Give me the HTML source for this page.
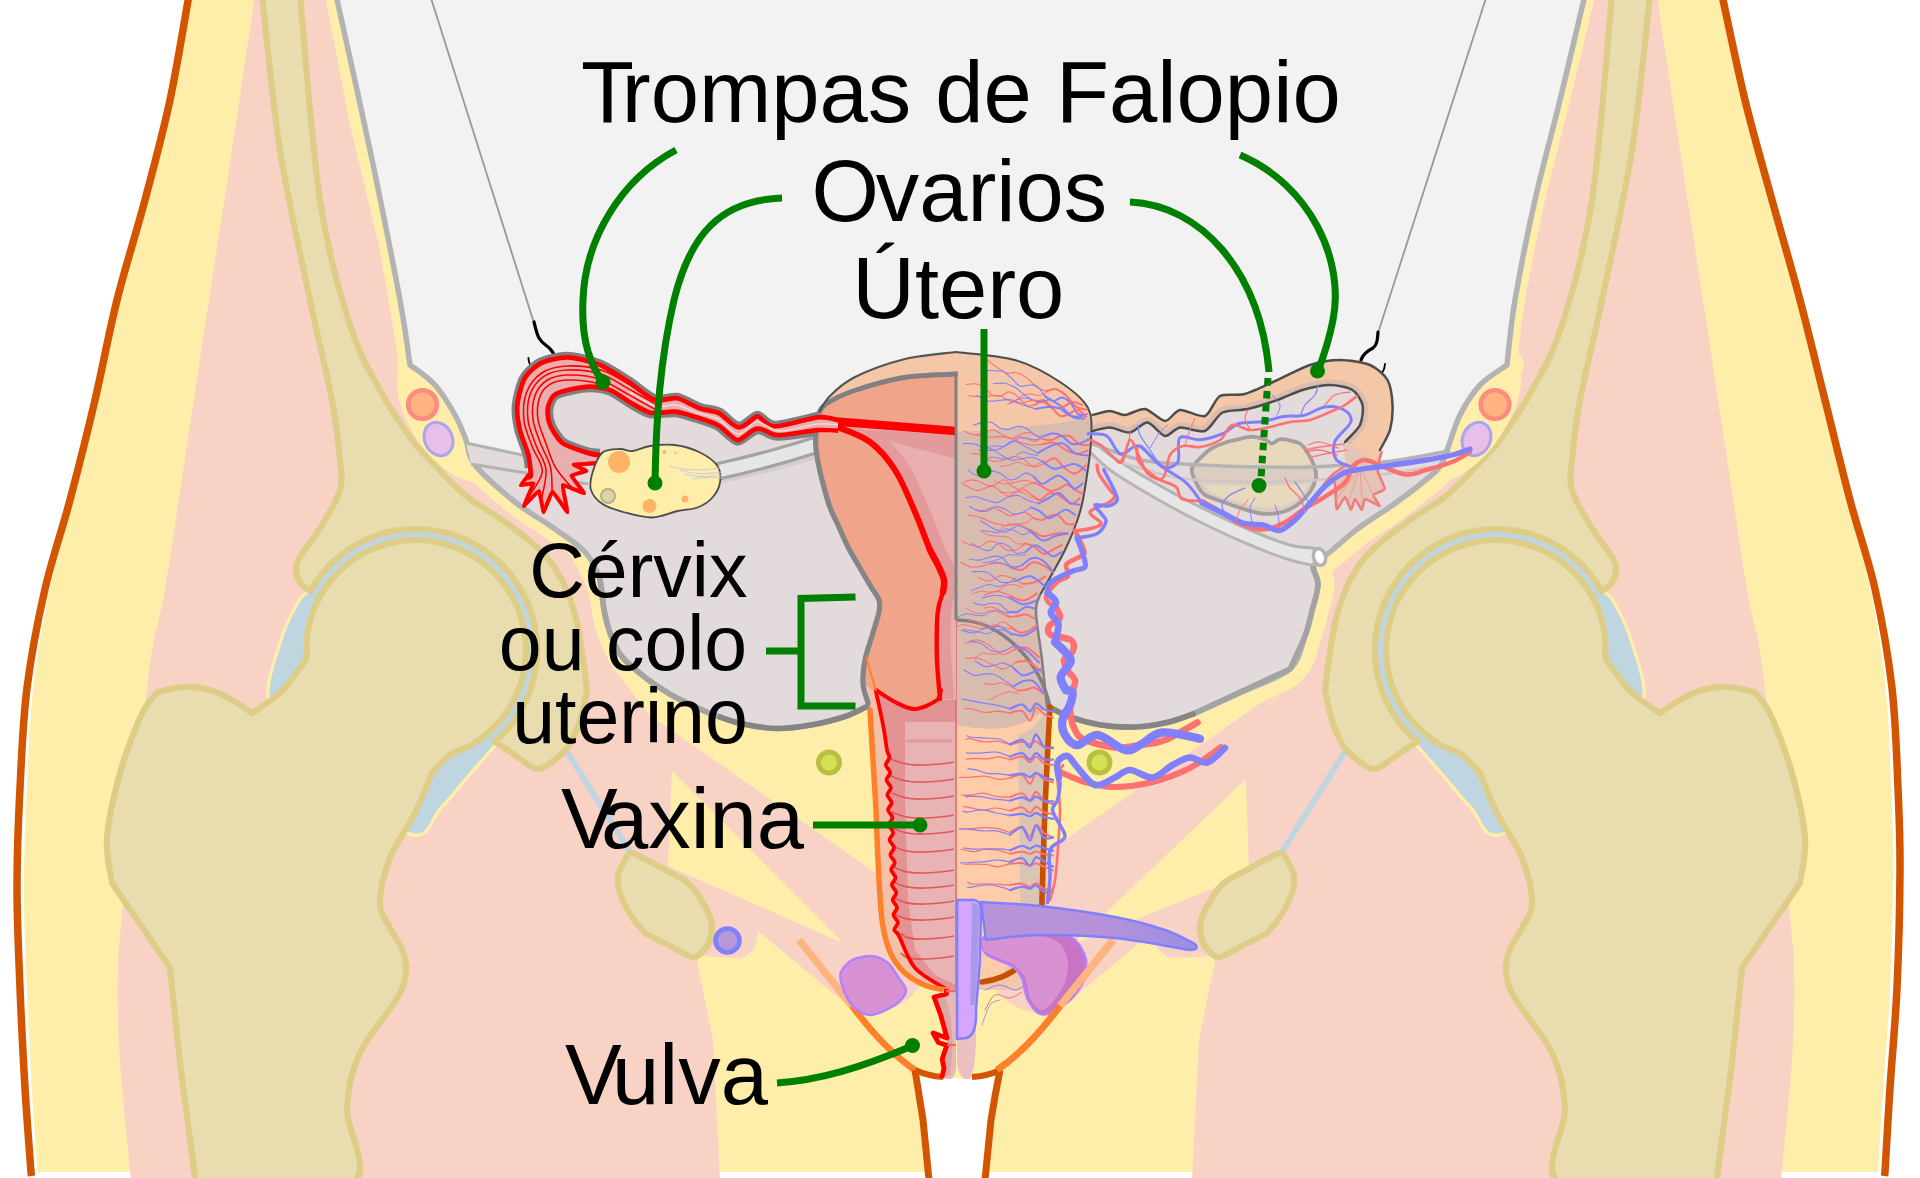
<!DOCTYPE html>
<html><head><meta charset="utf-8"><style>html,body{margin:0;padding:0;background:#fff}svg{display:block}text{font-family:"Liberation Sans",sans-serif;fill:#000}</style>
</head><body>
<svg width="1920" height="1178" viewBox="0 0 1920 1178">
<path d="M189.0,-5.0 C185.8,12.5 177.3,65.8 170.0,100.0 C162.7,134.2 153.8,166.7 145.0,200.0 C136.2,233.3 125.3,266.7 117.0,300.0 C108.7,333.3 102.8,366.7 95.0,400.0 C87.2,433.3 78.3,468.5 70.0,500.0 C61.7,531.5 52.2,557.7 45.0,589.0 C37.8,620.3 31.2,654.8 27.0,688.0 C22.8,721.2 21.7,754.7 20.0,788.0 C18.3,821.3 17.0,854.7 17.0,888.0 C17.0,921.3 18.7,954.7 20.0,988.0 C21.3,1021.3 23.2,1057.3 25.0,1088.0 C26.8,1118.7 30.0,1158.0 31.0,1172.0 L1885,1172 C1885.8,1158.0 1888.0,1118.7 1890.0,1088.0 C1892.0,1057.3 1895.3,1024.3 1897.0,988.0 C1898.7,951.7 1899.8,903.3 1900.0,870.0 C1900.2,836.7 1899.3,818.3 1898.0,788.0 C1896.7,757.7 1895.8,721.2 1892.0,688.0 C1888.2,654.8 1882.0,620.3 1875.0,589.0 C1868.0,557.7 1858.3,531.5 1850.0,500.0 C1841.7,468.5 1833.3,433.3 1825.0,400.0 C1816.7,366.7 1808.8,333.3 1800.0,300.0 C1791.2,266.7 1781.2,233.3 1772.0,200.0 C1762.8,166.7 1753.3,134.2 1745.0,100.0 C1736.7,65.8 1725.8,12.5 1722.0,-5.0Z" fill="#ffeeaa"/>
<path d="M72.0,500.0 C67.8,514.8 54.2,557.7 47.0,589.0 C39.8,620.3 33.2,654.8 29.0,688.0 C24.8,721.2 23.7,754.7 22.0,788.0 C20.3,821.3 19.0,854.7 19.0,888.0 C19.0,921.3 20.7,954.7 22.0,988.0 C23.3,1021.3 25.2,1057.3 27.0,1088.0 C28.8,1118.7 32.0,1158.0 33.0,1172.0 L37.8,1172.0 C36.8,1158.0 33.6,1118.7 31.8,1088.0 C30.0,1057.3 28.1,1021.3 26.8,988.0 C25.5,954.7 23.8,921.3 23.8,888.0 C23.8,854.7 25.2,821.3 26.8,788.0 C28.4,754.7 29.5,721.2 33.3,688.0 C37.1,654.8 43.0,620.3 49.7,589.0 C56.4,557.7 69.6,514.8 73.6,500.0Z" fill="#fff"/>
<path d="M1848.0,500.0 C1852.2,514.8 1866.0,557.7 1873.0,589.0 C1880.0,620.3 1886.2,654.8 1890.0,688.0 C1893.8,721.2 1894.7,757.7 1896.0,788.0 C1897.3,818.3 1898.2,836.7 1898.0,870.0 C1897.8,903.3 1896.7,951.7 1895.0,988.0 C1893.3,1024.3 1890.0,1057.3 1888.0,1088.0 C1886.0,1118.7 1883.8,1158.0 1883.0,1172.0 L1878.2,1172.0 C1879.0,1158.0 1881.2,1118.7 1883.2,1088.0 C1885.2,1057.3 1888.5,1024.3 1890.2,988.0 C1891.9,951.7 1893.0,903.3 1893.2,870.0 C1893.4,836.7 1892.4,818.3 1891.2,788.0 C1890.0,757.7 1889.2,721.2 1885.7,688.0 C1882.2,654.8 1876.8,620.3 1870.3,589.0 C1863.7,557.7 1850.4,514.8 1846.4,500.0Z" fill="#fff"/>
<path d="M189.0,-5.0 C185.8,12.5 177.3,65.8 170.0,100.0 C162.7,134.2 153.8,166.7 145.0,200.0 C136.2,233.3 125.3,266.7 117.0,300.0 C108.7,333.3 102.8,366.7 95.0,400.0 C87.2,433.3 78.3,468.5 70.0,500.0 C61.7,531.5 52.2,557.7 45.0,589.0 C37.8,620.3 31.2,654.8 27.0,688.0 C22.8,721.2 21.7,754.7 20.0,788.0 C18.3,821.3 17.0,854.7 17.0,888.0 C17.0,921.3 18.7,954.7 20.0,988.0 C21.3,1021.3 23.2,1057.3 25.0,1088.0 C26.8,1118.7 30.0,1158.0 31.0,1172.0 L31.5,1176" fill="none" stroke="#d45500" stroke-width="7.5"/>
<path d="M1722.0,-5.0 C1725.8,12.5 1736.7,65.8 1745.0,100.0 C1753.3,134.2 1762.8,166.7 1772.0,200.0 C1781.2,233.3 1791.2,266.7 1800.0,300.0 C1808.8,333.3 1816.7,366.7 1825.0,400.0 C1833.3,433.3 1841.7,468.5 1850.0,500.0 C1858.3,531.5 1868.0,557.7 1875.0,589.0 C1882.0,620.3 1888.2,654.8 1892.0,688.0 C1895.8,721.2 1896.7,757.7 1898.0,788.0 C1899.3,818.3 1900.2,836.7 1900.0,870.0 C1899.8,903.3 1898.7,951.7 1897.0,988.0 C1895.3,1024.3 1892.0,1057.3 1890.0,1088.0 C1888.0,1118.7 1885.8,1158.0 1885.0,1172.0 L1884.5,1176" fill="none" stroke="#d45500" stroke-width="7.5"/>
<path d="M255.0,-5.0 C251.2,20.8 239.7,99.2 232.0,150.0 C224.3,200.8 216.5,250.8 209.0,300.0 C201.5,349.2 194.3,396.8 187.0,445.0 C179.7,493.2 170.5,556.5 165.0,589.0 C159.5,621.5 157.0,623.5 154.0,640.0 C151.0,656.5 150.2,663.0 147.0,688.0 C143.8,713.0 138.7,756.7 135.0,790.0 C131.3,823.3 127.8,858.3 125.0,888.0 C122.2,917.7 118.8,939.3 118.0,968.0 C117.2,996.7 117.8,1024.7 120.0,1060.0 C122.2,1095.3 129.2,1160.0 131.0,1180.0 L720.0,1180.0 L713.0,1040.0 L706.0,1005.0 L696.0,956.0 L740.0,958.0 Q757.0,955.0 758.0,931.0 L850.0,1007.0 L862.0,1014.0 Q905.0,1012.0 920.0,985.0 L885.0,940.0 L879,875 L638,707 L651.0,717.0 L634.0,695.0 L609.0,662.0 L597.0,629.0 L587.0,587.0 L567.0,548.0 L522.0,520.0 L470.0,480.0 L440.0,462.0 L400.0,368.0 L380.0,250.0 L350.0,125.0 L325.0,-5.0Z" fill="#f8d3c5"/>
<path d="M1657.0,-5.0 C1660.8,20.8 1672.3,99.2 1680.0,150.0 C1687.7,200.8 1695.5,250.8 1703.0,300.0 C1710.5,349.2 1717.7,396.8 1725.0,445.0 C1732.3,493.2 1741.5,556.5 1747.0,589.0 C1752.5,621.5 1755.0,623.5 1758.0,640.0 C1761.0,656.5 1761.8,663.0 1765.0,688.0 C1768.2,713.0 1773.3,756.7 1777.0,790.0 C1780.7,823.3 1784.2,858.3 1787.0,888.0 C1789.8,917.7 1793.2,939.3 1794.0,968.0 C1794.8,996.7 1794.2,1024.7 1792.0,1060.0 C1789.8,1095.3 1782.8,1160.0 1781.0,1180.0 L1192.0,1180.0 L1199.0,1040.0 L1206.0,1005.0 L1216.0,956.0 L1172.0,958.0 Q1155.0,955.0 1154.0,931.0 L1062.0,1007.0 L1050.0,1014.0 Q1007.0,1012.0 992.0,985.0 L1027.0,940.0 L1036,860 L1282,688 L1261.0,717.0 L1278.0,695.0 L1303.0,662.0 L1315.0,629.0 L1325.0,587.0 L1345.0,548.0 L1390.0,520.0 L1442.0,480.0 L1472.0,462.0 L1512.0,368.0 L1532.0,250.0 L1562.0,125.0 L1587.0,-5.0Z" fill="#f8d3c5"/>
<path d="M672.0,771.0 L668.0,866.0 L843.0,943.0Z" fill="#ffeeaa"/>
<path d="M1246.0,779.0 L1249.0,874.0 L1072.0,945.0Z" fill="#ffeeaa"/>
<g><path d="M311.0,589.0 C297.0,600.0 301.0,597.5 296.0,606.0 C291.0,614.5 285.7,624.8 281.0,640.0 C276.3,655.2 266.5,679.5 268.0,697.0 C269.5,714.5 278.0,729.5 290.0,745.0 C302.0,760.5 319.5,775.0 340.0,790.0 C360.5,805.0 396.2,832.0 413.0,835.0 C429.8,838.0 431.3,818.3 441.0,808.0 C450.7,797.7 461.0,784.7 471.0,773.0 C481.0,761.3 490.3,751.8 501.0,738.0 C511.7,724.2 528.5,709.7 535.0,690.0 C541.5,670.3 549.2,641.7 540.0,620.0 C530.8,598.3 506.7,573.3 480.0,560.0 C453.3,546.7 408.2,535.2 380.0,540.0 C351.8,544.8 325.0,578.0 311.0,589.0Z" fill="#bfd5e0" stroke="#ffeeaa" stroke-width="3.4"/>
<circle cx="416.0" cy="650.0" r="119.5" fill="#bfd5e0"/>
<path d="M567,752 L632,855" fill="none" stroke="#bfd5e0" stroke-width="6"/>
<path d="M262.0,-5.0 C265.0,20.8 272.0,99.2 280.0,150.0 C288.0,200.8 301.3,258.3 310.0,300.0 C318.7,341.7 327.0,373.3 332.0,400.0 C337.0,426.7 338.7,445.0 340.0,460.0 C341.3,475.0 343.0,479.2 340.0,490.0 C337.0,500.8 328.7,513.8 322.0,525.0 C315.3,536.2 304.3,549.2 300.0,557.0 C295.7,564.8 295.7,567.3 296.0,572.0 C296.3,576.7 299.5,581.8 302.0,585.0 C304.5,588.2 309.5,590.0 311.0,591.0 L316.9,580.6 C318.7,578.4 323.7,571.6 327.5,567.5 C331.3,563.4 335.5,559.5 339.9,556.0 C344.2,552.4 348.9,549.2 353.7,546.3 C358.5,543.4 363.6,540.8 368.7,538.6 C373.9,536.4 379.3,534.6 384.7,533.1 C390.1,531.7 395.7,530.6 401.3,529.9 C406.8,529.2 412.5,528.9 418.1,529.0 C423.7,529.1 429.4,529.6 434.9,530.5 C440.5,531.4 446.0,532.6 451.4,534.3 C456.7,535.9 462.0,538.0 467.1,540.3 C472.2,542.7 477.2,545.5 481.9,548.5 C486.6,551.6 491.1,555.0 495.4,558.7 C499.6,562.4 503.6,566.4 507.3,570.6 C511.0,574.9 514.4,579.4 517.5,584.1 C520.5,588.8 523.3,593.8 525.7,598.9 C528.0,604.0 530.1,609.3 531.7,614.6 C533.4,620.0 534.6,625.5 535.5,631.1 C536.4,636.6 536.9,642.3 537.0,647.9 C537.1,653.5 536.8,659.2 536.1,664.7 C535.4,670.3 534.3,675.9 532.9,681.3 C531.4,686.7 529.6,692.1 527.4,697.3 C525.2,702.4 522.6,707.5 519.7,712.3 C516.8,717.1 513.6,721.8 510.0,726.1 C506.5,730.5 501.2,736.0 498.5,738.5 C495.8,741.0 494.8,740.6 494.0,741.0 C498.2,743.8 511.7,753.3 519.0,758.0 C526.3,762.7 531.7,769.0 538.0,769.0 C544.3,769.0 551.7,762.2 557.0,758.0 C562.3,753.8 566.0,750.8 570.0,744.0 C574.0,737.2 578.2,726.0 581.0,717.0 C583.8,708.0 586.0,694.5 587.0,690.0 C586.2,683.7 584.0,664.5 582.0,652.0 C580.0,639.5 578.3,627.0 575.0,615.0 C571.7,603.0 567.8,590.8 562.0,580.0 C556.2,569.2 550.0,560.0 540.0,550.0 C530.0,540.0 514.5,529.2 502.0,520.0 C489.5,510.8 477.0,505.0 465.0,495.0 C453.0,485.0 438.8,469.2 430.0,460.0 C421.2,450.8 420.3,451.7 412.0,440.0 C403.7,428.3 390.3,409.2 380.0,390.0 C369.7,370.8 360.0,356.7 350.0,325.0 C340.0,293.3 328.3,255.0 320.0,200.0 C311.7,145.0 303.3,29.2 300.0,-5.0Z" fill="#e9ddaf" stroke="#decd87" stroke-width="6.2" stroke-linejoin="round" stroke-linecap="round"/>
<path d="M307.0,657.0 C305.8,658.8 304.5,662.0 300.0,668.0 C295.5,674.0 288.0,685.5 280.0,693.0 C272.0,700.5 256.7,709.7 252.0,713.0 L252.0,713.0 C248.7,710.8 239.0,703.8 232.0,700.0 C225.0,696.2 217.8,692.2 210.0,690.0 C202.2,687.8 193.0,686.8 185.0,687.0 C177.0,687.2 167.3,689.3 162.0,691.0 C156.7,692.7 156.7,692.5 153.0,697.0 C149.3,701.5 145.5,705.3 140.0,718.0 C134.5,730.7 125.5,753.0 120.0,773.0 C114.5,793.0 108.3,819.7 107.0,838.0 C105.7,856.3 111.2,875.5 112.0,883.0 L170.0,968.0 L180.0,1063.0 L196.0,1185.0 C221.7,1185.0 324.8,1197.8 350.0,1185.0 C375.2,1172.2 345.3,1130.0 347.0,1108.0 C348.7,1086.0 351.2,1072.2 360.0,1053.0 C368.8,1033.8 392.5,1008.8 400.0,993.0 C407.5,977.2 406.7,968.8 405.0,958.0 C403.3,947.2 394.2,937.2 390.0,928.0 C385.8,918.8 380.0,914.7 380.0,903.0 C380.0,891.3 384.2,873.0 390.0,858.0 C395.8,843.0 408.0,827.2 415.0,813.0 C422.0,798.8 429.2,779.7 432.0,773.0 C435.2,769.9 444.5,758.9 450.9,754.3 C457.3,749.8 464.2,749.1 470.3,745.6 C476.5,742.2 482.4,738.0 487.7,733.4 C493.1,728.8 498.1,723.6 502.4,718.0 C506.8,712.5 510.7,706.4 513.9,700.1 C517.1,693.9 519.8,687.1 521.7,680.4 C523.7,673.6 525.0,666.5 525.6,659.5 C526.2,652.4 526.1,645.2 525.4,638.2 C524.6,631.2 523.1,624.1 521.0,617.4 C519.0,610.6 516.2,604.0 512.8,597.8 C509.5,591.5 505.4,585.6 500.9,580.1 C496.5,574.7 491.4,569.6 485.9,565.1 C480.5,560.6 474.5,556.6 468.3,553.2 C462.0,549.9 455.4,547.1 448.7,545.0 C441.9,542.9 434.8,541.4 427.8,540.6 C420.8,539.9 413.6,539.8 406.6,540.4 C399.5,541.0 392.4,542.3 385.7,544.3 C378.9,546.2 372.2,548.9 365.9,552.1 C359.6,555.3 353.5,559.2 348.0,563.6 C342.4,567.9 337.2,572.9 332.6,578.3 C328.0,583.6 323.8,589.5 320.4,595.7 C316.9,601.8 313.9,608.4 311.7,615.1 C309.5,621.8 307.7,628.8 306.9,635.8 C306.1,642.8 307.0,653.5 307.0,657.0Z" fill="#e9ddaf" stroke="#decd87" stroke-width="6.2" stroke-linejoin="round" stroke-linecap="round"/>
<path d="M632.0,853.0 C636.2,853.6 653.6,863.6 660.0,867.0 C666.4,870.4 682.3,878.4 687.0,882.0 C691.7,885.6 697.3,893.9 700.0,898.0 C702.7,902.1 708.6,913.3 710.0,917.0 C711.4,920.7 712.2,926.7 712.0,930.0 C711.8,933.3 710.1,941.8 708.0,945.0 C705.9,948.2 698.4,957.4 694.0,957.5 C689.6,957.6 675.5,948.7 670.0,946.0 C664.5,943.3 650.9,937.0 646.7,934.0 C642.5,931.0 636.4,923.0 634.0,920.0 C631.6,917.0 628.2,911.5 626.5,908.0 C624.8,904.5 620.0,893.9 619.0,890.0 C618.0,886.1 617.4,878.3 618.0,875.0 C618.6,871.7 622.4,864.6 624.0,862.0 C625.6,859.4 627.8,852.4 632.0,853.0Z" fill="#e9ddaf" stroke="#decd87" stroke-width="6.2" stroke-linejoin="round" stroke-linecap="round"/>
<path d="M799,940 L852,1006" fill="none" stroke="#ffb380" stroke-width="7.5"/>
<path d="M852,1006 Q885,1050 915,1070" fill="none" stroke="#ff7f2a" stroke-width="6.5"/></g>
<g transform="matrix(-1,0,0,1,1912,0)"><path d="M311.0,589.0 C297.0,600.0 301.0,597.5 296.0,606.0 C291.0,614.5 285.7,624.8 281.0,640.0 C276.3,655.2 266.5,679.5 268.0,697.0 C269.5,714.5 278.0,729.5 290.0,745.0 C302.0,760.5 319.5,775.0 340.0,790.0 C360.5,805.0 396.2,832.0 413.0,835.0 C429.8,838.0 431.3,818.3 441.0,808.0 C450.7,797.7 461.0,784.7 471.0,773.0 C481.0,761.3 490.3,751.8 501.0,738.0 C511.7,724.2 528.5,709.7 535.0,690.0 C541.5,670.3 549.2,641.7 540.0,620.0 C530.8,598.3 506.7,573.3 480.0,560.0 C453.3,546.7 408.2,535.2 380.0,540.0 C351.8,544.8 325.0,578.0 311.0,589.0Z" fill="#bfd5e0" stroke="#ffeeaa" stroke-width="3.4"/>
<circle cx="416.0" cy="650.0" r="119.5" fill="#bfd5e0"/>
<path d="M567,752 L632,855" fill="none" stroke="#bfd5e0" stroke-width="6"/>
<path d="M262.0,-5.0 C265.0,20.8 272.0,99.2 280.0,150.0 C288.0,200.8 301.3,258.3 310.0,300.0 C318.7,341.7 327.0,373.3 332.0,400.0 C337.0,426.7 338.7,445.0 340.0,460.0 C341.3,475.0 343.0,479.2 340.0,490.0 C337.0,500.8 328.7,513.8 322.0,525.0 C315.3,536.2 304.3,549.2 300.0,557.0 C295.7,564.8 295.7,567.3 296.0,572.0 C296.3,576.7 299.5,581.8 302.0,585.0 C304.5,588.2 309.5,590.0 311.0,591.0 L316.9,580.6 C318.7,578.4 323.7,571.6 327.5,567.5 C331.3,563.4 335.5,559.5 339.9,556.0 C344.2,552.4 348.9,549.2 353.7,546.3 C358.5,543.4 363.6,540.8 368.7,538.6 C373.9,536.4 379.3,534.6 384.7,533.1 C390.1,531.7 395.7,530.6 401.3,529.9 C406.8,529.2 412.5,528.9 418.1,529.0 C423.7,529.1 429.4,529.6 434.9,530.5 C440.5,531.4 446.0,532.6 451.4,534.3 C456.7,535.9 462.0,538.0 467.1,540.3 C472.2,542.7 477.2,545.5 481.9,548.5 C486.6,551.6 491.1,555.0 495.4,558.7 C499.6,562.4 503.6,566.4 507.3,570.6 C511.0,574.9 514.4,579.4 517.5,584.1 C520.5,588.8 523.3,593.8 525.7,598.9 C528.0,604.0 530.1,609.3 531.7,614.6 C533.4,620.0 534.6,625.5 535.5,631.1 C536.4,636.6 536.9,642.3 537.0,647.9 C537.1,653.5 536.8,659.2 536.1,664.7 C535.4,670.3 534.3,675.9 532.9,681.3 C531.4,686.7 529.6,692.1 527.4,697.3 C525.2,702.4 522.6,707.5 519.7,712.3 C516.8,717.1 513.6,721.8 510.0,726.1 C506.5,730.5 501.2,736.0 498.5,738.5 C495.8,741.0 494.8,740.6 494.0,741.0 C498.2,743.8 511.7,753.3 519.0,758.0 C526.3,762.7 531.7,769.0 538.0,769.0 C544.3,769.0 551.7,762.2 557.0,758.0 C562.3,753.8 566.0,750.8 570.0,744.0 C574.0,737.2 578.2,726.0 581.0,717.0 C583.8,708.0 586.0,694.5 587.0,690.0 C586.2,683.7 584.0,664.5 582.0,652.0 C580.0,639.5 578.3,627.0 575.0,615.0 C571.7,603.0 567.8,590.8 562.0,580.0 C556.2,569.2 550.0,560.0 540.0,550.0 C530.0,540.0 514.5,529.2 502.0,520.0 C489.5,510.8 477.0,505.0 465.0,495.0 C453.0,485.0 438.8,469.2 430.0,460.0 C421.2,450.8 420.3,451.7 412.0,440.0 C403.7,428.3 390.3,409.2 380.0,390.0 C369.7,370.8 360.0,356.7 350.0,325.0 C340.0,293.3 328.3,255.0 320.0,200.0 C311.7,145.0 303.3,29.2 300.0,-5.0Z" fill="#e9ddaf" stroke="#decd87" stroke-width="6.2" stroke-linejoin="round" stroke-linecap="round"/>
<path d="M307.0,657.0 C305.8,658.8 304.5,662.0 300.0,668.0 C295.5,674.0 288.0,685.5 280.0,693.0 C272.0,700.5 256.7,709.7 252.0,713.0 L252.0,713.0 C248.7,710.8 239.0,703.8 232.0,700.0 C225.0,696.2 217.8,692.2 210.0,690.0 C202.2,687.8 193.0,686.8 185.0,687.0 C177.0,687.2 167.3,689.3 162.0,691.0 C156.7,692.7 156.7,692.5 153.0,697.0 C149.3,701.5 145.5,705.3 140.0,718.0 C134.5,730.7 125.5,753.0 120.0,773.0 C114.5,793.0 108.3,819.7 107.0,838.0 C105.7,856.3 111.2,875.5 112.0,883.0 L170.0,968.0 L180.0,1063.0 L196.0,1185.0 C221.7,1185.0 324.8,1197.8 350.0,1185.0 C375.2,1172.2 345.3,1130.0 347.0,1108.0 C348.7,1086.0 351.2,1072.2 360.0,1053.0 C368.8,1033.8 392.5,1008.8 400.0,993.0 C407.5,977.2 406.7,968.8 405.0,958.0 C403.3,947.2 394.2,937.2 390.0,928.0 C385.8,918.8 380.0,914.7 380.0,903.0 C380.0,891.3 384.2,873.0 390.0,858.0 C395.8,843.0 408.0,827.2 415.0,813.0 C422.0,798.8 429.2,779.7 432.0,773.0 C435.2,769.9 444.5,758.9 450.9,754.3 C457.3,749.8 464.2,749.1 470.3,745.6 C476.5,742.2 482.4,738.0 487.7,733.4 C493.1,728.8 498.1,723.6 502.4,718.0 C506.8,712.5 510.7,706.4 513.9,700.1 C517.1,693.9 519.8,687.1 521.7,680.4 C523.7,673.6 525.0,666.5 525.6,659.5 C526.2,652.4 526.1,645.2 525.4,638.2 C524.6,631.2 523.1,624.1 521.0,617.4 C519.0,610.6 516.2,604.0 512.8,597.8 C509.5,591.5 505.4,585.6 500.9,580.1 C496.5,574.7 491.4,569.6 485.9,565.1 C480.5,560.6 474.5,556.6 468.3,553.2 C462.0,549.9 455.4,547.1 448.7,545.0 C441.9,542.9 434.8,541.4 427.8,540.6 C420.8,539.9 413.6,539.8 406.6,540.4 C399.5,541.0 392.4,542.3 385.7,544.3 C378.9,546.2 372.2,548.9 365.9,552.1 C359.6,555.3 353.5,559.2 348.0,563.6 C342.4,567.9 337.2,572.9 332.6,578.3 C328.0,583.6 323.8,589.5 320.4,595.7 C316.9,601.8 313.9,608.4 311.7,615.1 C309.5,621.8 307.7,628.8 306.9,635.8 C306.1,642.8 307.0,653.5 307.0,657.0Z" fill="#e9ddaf" stroke="#decd87" stroke-width="6.2" stroke-linejoin="round" stroke-linecap="round"/>
<path d="M632.0,853.0 C636.2,853.6 653.6,863.6 660.0,867.0 C666.4,870.4 682.3,878.4 687.0,882.0 C691.7,885.6 697.3,893.9 700.0,898.0 C702.7,902.1 708.6,913.3 710.0,917.0 C711.4,920.7 712.2,926.7 712.0,930.0 C711.8,933.3 710.1,941.8 708.0,945.0 C705.9,948.2 698.4,957.4 694.0,957.5 C689.6,957.6 675.5,948.7 670.0,946.0 C664.5,943.3 650.9,937.0 646.7,934.0 C642.5,931.0 636.4,923.0 634.0,920.0 C631.6,917.0 628.2,911.5 626.5,908.0 C624.8,904.5 620.0,893.9 619.0,890.0 C618.0,886.1 617.4,878.3 618.0,875.0 C618.6,871.7 622.4,864.6 624.0,862.0 C625.6,859.4 627.8,852.4 632.0,853.0Z" fill="#e9ddaf" stroke="#decd87" stroke-width="6.2" stroke-linejoin="round" stroke-linecap="round"/>
<path d="M799,940 L852,1006" fill="none" stroke="#ffb380" stroke-width="7.5"/>
<path d="M852,1006 Q885,1050 915,1070" fill="none" stroke="#ff7f2a" stroke-width="6.5"/></g>
<circle cx="727.5" cy="940.5" r="12.0" fill="#b897d8" stroke="#8080ff" stroke-width="4.6"/>
<path d="M841.0,972.0 C842.5,968.2 847.4,962.4 852.0,960.0 C856.6,957.6 866.6,955.5 872.0,956.0 C877.4,956.5 884.1,959.9 888.0,963.0 C891.9,966.1 895.3,972.8 898.0,977.0 C900.7,981.2 906.5,986.8 906.0,991.0 C905.5,995.2 900.4,1001.4 895.0,1005.0 C889.6,1008.6 876.5,1015.0 870.0,1015.0 C863.5,1015.0 856.2,1009.5 852.0,1005.0 C847.8,1000.5 843.6,990.0 842.0,985.0 C840.4,980.0 839.5,975.8 841.0,972.0Z" fill="#d891d3" stroke="#b380ff" stroke-width="2.5"/>
<circle cx="829.0" cy="762.5" r="10.5" fill="#d4e157" stroke="#b8c042" stroke-width="5"/>
<circle cx="1099.5" cy="762.5" r="10.5" fill="#d4e157" stroke="#b8c042" stroke-width="5"/>
<path d="M336.0,-5.0 C341.7,20.8 359.3,99.2 370.0,150.0 C380.7,200.8 393.3,264.2 400.0,300.0 C406.7,335.8 408.3,354.2 410.0,365.0" fill="none" stroke="#ffeeaa" stroke-width="20" stroke-linejoin="round" stroke-linecap="round"/>
<path d="M1585.0,-5.0 C1580.8,12.5 1568.3,65.8 1560.0,100.0 C1551.7,134.2 1542.5,166.7 1535.0,200.0 C1527.5,233.3 1519.7,272.5 1515.0,300.0 C1510.3,327.5 1508.3,354.2 1507.0,365.0" fill="none" stroke="#ffeeaa" stroke-width="20" stroke-linejoin="round" stroke-linecap="round"/>
<path d="M410.0,365.0 C414.2,368.3 427.5,376.7 435.0,385.0 C442.5,393.3 449.8,405.8 455.0,415.0 C460.2,424.2 462.7,431.7 466.0,440.0 C469.3,448.3 466.8,454.7 475.0,465.0 C483.2,475.3 502.2,491.7 515.0,502.0 C527.8,512.3 540.3,518.7 552.0,527.0 C563.7,535.3 577.0,543.2 585.0,552.0 C593.0,560.8 596.7,569.5 600.0,580.0 C603.3,590.5 602.5,604.2 605.0,615.0 C607.5,625.8 610.8,636.7 615.0,645.0 C619.2,653.3 621.2,657.0 630.0,665.0 C638.8,673.0 654.8,685.0 668.0,693.0 C681.2,701.0 696.5,707.8 709.0,713.0 C721.5,718.2 731.7,721.4 743.0,724.0 C754.3,726.6 765.7,728.3 777.0,728.5 C788.3,728.7 799.7,727.0 811.0,725.0 C822.3,723.0 835.5,719.7 845.0,716.5 C854.5,713.3 864.2,707.8 868.0,706.0" fill="none" stroke="#ffeeaa" stroke-width="25" stroke-linejoin="round" stroke-linecap="round"/>
<path d="M1507.0,365.0 C1502.5,368.3 1487.8,376.7 1480.0,385.0 C1472.2,393.3 1465.5,404.2 1460.0,415.0 C1454.5,425.8 1450.8,440.8 1447.0,450.0 C1443.2,459.2 1445.3,461.3 1437.0,470.0 C1428.7,478.7 1409.8,492.5 1397.0,502.0 C1384.2,511.5 1371.2,518.7 1360.0,527.0 C1348.8,535.3 1337.7,545.5 1330.0,552.0 C1322.3,558.5 1316.0,560.5 1314.0,566.0 C1312.0,571.5 1318.3,577.5 1318.0,585.0 C1317.7,592.5 1314.2,602.5 1312.0,611.0 C1309.8,619.5 1308.7,626.3 1305.0,636.0 C1301.3,645.7 1300.2,659.8 1290.0,669.0 C1279.8,678.2 1260.2,683.5 1244.0,691.0 C1227.8,698.5 1205.5,708.8 1193.0,714.0 C1180.5,719.2 1178.7,719.8 1169.0,722.0 C1159.3,724.2 1146.3,726.5 1135.0,727.0 C1123.7,727.5 1111.8,726.7 1101.0,725.0 C1090.2,723.3 1078.3,719.8 1070.0,717.0 C1061.7,714.2 1054.2,709.5 1051.0,708.0" fill="none" stroke="#ffeeaa" stroke-width="33" stroke-linejoin="round" stroke-linecap="round"/>
<path d="M1440.0,466.0 C1432.8,472.0 1410.3,491.8 1397.0,502.0 C1383.7,512.2 1370.8,519.0 1360.0,527.0 C1349.2,535.0 1336.7,546.2 1332.0,550.0" fill="none" stroke="#ffeeaa" stroke-width="34" stroke-linejoin="round" stroke-linecap="round"/>
<path d="M408.0,350.0 C400.8,350.0 397.7,369.2 397.0,380.0 C396.3,390.8 399.3,403.3 404.0,415.0 C408.7,426.7 417.0,440.2 425.0,450.0 C433.0,459.8 442.8,469.0 452.0,474.0 C461.2,479.0 475.3,485.7 480.0,480.0 C484.7,474.3 486.7,456.7 480.0,440.0 C473.3,423.3 452.0,395.0 440.0,380.0 C428.0,365.0 415.2,350.0 408.0,350.0Z" fill="#ffeeaa"/>
<path d="M1510.0,350.0 C1517.8,350.0 1520.7,369.2 1521.0,380.0 C1521.3,390.8 1517.2,403.3 1512.0,415.0 C1506.8,426.7 1498.3,440.2 1490.0,450.0 C1481.7,459.8 1471.3,469.0 1462.0,474.0 C1452.7,479.0 1438.7,485.7 1434.0,480.0 C1429.3,474.3 1427.3,456.7 1434.0,440.0 C1440.7,423.3 1461.3,395.0 1474.0,380.0 C1486.7,365.0 1502.2,350.0 1510.0,350.0Z" fill="#ffeeaa"/>
<path d="M336.0,-5.0 C341.7,20.8 359.3,99.2 370.0,150.0 C380.7,200.8 393.3,264.2 400.0,300.0 C406.7,335.8 408.3,354.2 410.0,365.0 C414.2,368.3 427.5,376.7 435.0,385.0 C442.5,393.3 449.8,405.8 455.0,415.0 C460.2,424.2 462.7,431.7 466.0,440.0 C469.3,448.3 473.5,460.8 475.0,465.0 L700,520 L1200,520 L1437,470 C1438.7,466.7 1443.2,459.2 1447.0,450.0 C1450.8,440.8 1454.5,425.8 1460.0,415.0 C1465.5,404.2 1472.2,393.3 1480.0,385.0 C1487.8,376.7 1502.5,368.3 1507.0,365.0 C1508.3,354.2 1510.3,327.5 1515.0,300.0 C1519.7,272.5 1527.5,233.3 1535.0,200.0 C1542.5,166.7 1551.7,134.2 1560.0,100.0 C1568.3,65.8 1580.8,12.5 1585.0,-5.0Z" fill="#f2f2f2"/>
<path d="M466.0,442.0 L527.0,458.0 C526.0,465.0 522.2,450.0 521.0,440.0 C519.8,430.0 519.0,419.2 520.0,410.0 C521.0,400.8 523.3,392.2 527.0,385.0 C530.7,377.8 535.3,371.0 542.0,367.0 C548.7,363.0 557.3,360.8 567.0,361.0 C576.7,361.2 589.5,363.8 600.0,368.0 C610.5,372.2 620.8,380.3 630.0,386.0 C639.2,391.7 647.5,399.3 655.0,402.0 C662.5,404.7 668.0,400.7 675.0,402.0 C682.0,403.3 690.0,407.3 697.0,410.0 C704.0,412.7 710.3,414.3 717.0,418.0 C723.7,421.7 730.3,431.7 737.0,432.0 C743.7,432.3 749.8,420.7 757.0,420.0 C764.2,419.3 770.0,427.7 780.0,428.0 C790.0,428.3 810.8,423.0 817.0,422.0 L956,380 L1092,423 C1095.0,422.3 1103.7,418.8 1110.0,419.0 C1116.3,419.2 1123.8,424.7 1130.0,424.0 C1136.2,423.3 1141.2,414.2 1147.0,415.0 C1152.8,415.8 1159.5,428.3 1165.0,429.0 C1170.5,429.7 1173.3,419.8 1180.0,419.0 C1186.7,418.2 1198.2,426.5 1205.0,424.0 C1211.8,421.5 1214.2,407.8 1221.0,404.0 C1227.8,400.2 1236.7,403.3 1246.0,401.0 C1255.3,398.7 1267.0,394.0 1277.0,390.0 C1287.0,386.0 1296.3,380.0 1306.0,377.0 C1315.7,374.0 1325.2,371.8 1335.0,372.0 C1344.8,372.2 1357.2,374.2 1365.0,378.0 C1372.8,381.8 1378.5,388.0 1382.0,395.0 C1385.5,402.0 1386.3,410.8 1386.0,420.0 C1385.7,429.2 1382.3,441.7 1380.0,450.0 C1377.7,458.3 1373.3,466.7 1372.0,470.0 L1447,452 C1445.3,453.3 1445.3,461.3 1437.0,470.0 C1428.7,478.7 1409.8,492.5 1397.0,502.0 C1384.2,511.5 1371.2,518.7 1360.0,527.0 C1348.8,535.3 1337.7,545.5 1330.0,552.0 C1322.3,558.5 1316.0,560.5 1314.0,566.0 C1312.0,571.5 1318.3,577.5 1318.0,585.0 C1317.7,592.5 1314.2,602.5 1312.0,611.0 C1309.8,619.5 1308.7,626.3 1305.0,636.0 C1301.3,645.7 1300.2,659.8 1290.0,669.0 C1279.8,678.2 1260.2,683.5 1244.0,691.0 C1227.8,698.5 1205.5,708.8 1193.0,714.0 C1180.5,719.2 1178.7,719.8 1169.0,722.0 C1159.3,724.2 1146.3,726.5 1135.0,727.0 C1123.7,727.5 1111.8,726.7 1101.0,725.0 C1090.2,723.3 1078.3,719.8 1070.0,717.0 C1061.7,714.2 1054.2,709.5 1051.0,708.0 L956,700 L868,706 C864.2,707.8 854.5,713.3 845.0,716.5 C835.5,719.7 822.3,723.0 811.0,725.0 C799.7,727.0 788.3,728.7 777.0,728.5 C765.7,728.3 754.3,726.6 743.0,724.0 C731.7,721.4 721.5,718.2 709.0,713.0 C696.5,707.8 681.2,701.0 668.0,693.0 C654.8,685.0 638.8,673.0 630.0,665.0 C621.2,657.0 619.2,653.3 615.0,645.0 C610.8,636.7 607.5,625.8 605.0,615.0 C602.5,604.2 603.3,590.5 600.0,580.0 C596.7,569.5 593.0,560.8 585.0,552.0 C577.0,543.2 563.7,535.3 552.0,527.0 C540.3,518.7 527.8,512.3 515.0,502.0 C502.2,491.7 483.2,475.3 475.0,465.0 C466.8,454.7 467.5,444.2 466.0,440.0Z" fill="#e3dbdb"/>
<path d="M336.0,-5.0 C341.7,20.8 359.3,99.2 370.0,150.0 C380.7,200.8 393.3,264.2 400.0,300.0 C406.7,335.8 408.3,354.2 410.0,365.0  C414.2,368.3 427.5,376.7 435.0,385.0 C442.5,393.3 449.8,405.8 455.0,415.0 C460.2,424.2 462.7,431.7 466.0,440.0 C469.3,448.3 466.8,454.7 475.0,465.0 C483.2,475.3 502.2,491.7 515.0,502.0 C527.8,512.3 540.3,518.7 552.0,527.0 C563.7,535.3 577.0,543.2 585.0,552.0 C593.0,560.8 596.7,569.5 600.0,580.0 C603.3,590.5 602.5,604.2 605.0,615.0 C607.5,625.8 610.8,636.7 615.0,645.0 C619.2,653.3 621.2,657.0 630.0,665.0 C638.8,673.0 654.8,685.0 668.0,693.0 C681.2,701.0 696.5,707.8 709.0,713.0 C721.5,718.2 731.7,721.4 743.0,724.0 C754.3,726.6 765.7,728.3 777.0,728.5 C788.3,728.7 799.7,727.0 811.0,725.0 C822.3,723.0 835.5,719.7 845.0,716.5 C854.5,713.3 864.2,707.8 868.0,706.0" fill="none" stroke="#b3b3b3" stroke-width="5.5" stroke-linejoin="round" stroke-linecap="round"/>
<path d="M1585.0,-5.0 C1580.8,12.5 1568.3,65.8 1560.0,100.0 C1551.7,134.2 1542.5,166.7 1535.0,200.0 C1527.5,233.3 1519.7,272.5 1515.0,300.0 C1510.3,327.5 1508.3,354.2 1507.0,365.0  C1502.5,368.3 1487.8,376.7 1480.0,385.0 C1472.2,393.3 1465.5,404.2 1460.0,415.0 C1454.5,425.8 1450.8,440.8 1447.0,450.0 C1443.2,459.2 1445.3,461.3 1437.0,470.0 C1428.7,478.7 1409.8,492.5 1397.0,502.0 C1384.2,511.5 1371.2,518.7 1360.0,527.0 C1348.8,535.3 1337.7,545.5 1330.0,552.0 C1322.3,558.5 1316.0,560.5 1314.0,566.0 C1312.0,571.5 1318.3,577.5 1318.0,585.0 C1317.7,592.5 1314.2,602.5 1312.0,611.0 C1309.8,619.5 1308.7,626.3 1305.0,636.0 C1301.3,645.7 1300.2,659.8 1290.0,669.0 C1279.8,678.2 1260.2,683.5 1244.0,691.0 C1227.8,698.5 1205.5,708.8 1193.0,714.0 C1180.5,719.2 1178.7,719.8 1169.0,722.0 C1159.3,724.2 1146.3,726.5 1135.0,727.0 C1123.7,727.5 1111.8,726.7 1101.0,725.0 C1090.2,723.3 1078.3,719.8 1070.0,717.0 C1061.7,714.2 1054.2,709.5 1051.0,708.0" fill="none" stroke="#b3b3b3" stroke-width="5.5" stroke-linejoin="round" stroke-linecap="round"/>
<path d="M600.0,580.0 C600.8,585.8 602.5,604.2 605.0,615.0 C607.5,625.8 610.8,636.7 615.0,645.0 C619.2,653.3 621.2,657.0 630.0,665.0 C638.8,673.0 654.8,685.0 668.0,693.0 C681.2,701.0 700.3,709.0 709.0,713.0 C717.7,717.0 718.2,716.3 720.0,717.0" fill="none" stroke="#a3a3a3" stroke-width="5.6" stroke-linejoin="round" stroke-linecap="round"/>
<path d="M720.0,717.0 C723.8,718.2 733.5,722.1 743.0,724.0 C752.5,725.9 765.7,728.3 777.0,728.5 C788.3,728.7 799.7,727.0 811.0,725.0 C822.3,723.0 835.5,719.7 845.0,716.5 C854.5,713.3 864.2,707.8 868.0,706.0" fill="none" stroke="#858585" stroke-width="5.6" stroke-linejoin="round" stroke-linecap="round"/>
<path d="M1313.0,568.0 C1313.8,570.8 1318.2,577.8 1318.0,585.0 C1317.8,592.2 1314.2,602.5 1312.0,611.0 C1309.8,619.5 1308.7,626.3 1305.0,636.0 C1301.3,645.7 1292.5,663.5 1290.0,669.0 L1193,714" fill="none" stroke="#a3a3a3" stroke-width="5.6" stroke-linejoin="round" stroke-linecap="round"/>
<path d="M1193.0,714.0 C1189.0,715.3 1178.7,719.8 1169.0,722.0 C1159.3,724.2 1146.3,726.5 1135.0,727.0 C1123.7,727.5 1111.8,726.7 1101.0,725.0 C1090.2,723.3 1078.3,719.8 1070.0,717.0 C1061.7,714.2 1054.2,709.5 1051.0,708.0" fill="none" stroke="#858585" stroke-width="5.6" stroke-linejoin="round" stroke-linecap="round"/>
<path d="M430,-5 L534,323" fill="none" stroke="#999" stroke-width="1.8"/>
<path d="M1487,-5 L1378,333" fill="none" stroke="#999" stroke-width="1.8"/>
<path d="M534,322 C536,330 537,335 539,338 C543,345 549,346 551,350 C553,352 554,354 554,356" fill="none" stroke="#000" stroke-width="3.2" stroke-linejoin="round" stroke-linecap="round"/>
<path d="M528.4,358 C528.5,364 532,368 536.5,370" fill="none" stroke="#000" stroke-width="1.8" stroke-linejoin="round" stroke-linecap="round"/>
<path d="M1378,332 C1377.5,340 1377,345 1373,348 C1367,351 1363,354 1361,360" fill="none" stroke="#000" stroke-width="3.2" stroke-linejoin="round" stroke-linecap="round"/>
<path d="M1385,364 C1384.5,371 1381,375 1377,377" fill="none" stroke="#000" stroke-width="1.8" stroke-linejoin="round" stroke-linecap="round"/>
<circle cx="422.5" cy="404.5" r="14.3" fill="#ffb380" stroke="#ff8a80" stroke-width="4.6"/>
<ellipse cx="438.5" cy="439" rx="13.8" ry="17.2" fill="#e8bfe8" stroke="#aaa5ee" stroke-width="3" transform="rotate(-25 438.5 439)"/>
<circle cx="1495.0" cy="404.5" r="14.3" fill="#ffb380" stroke="#ff8a80" stroke-width="4.6"/>
<ellipse cx="1476.5" cy="439" rx="13.8" ry="17.2" fill="#e8bfe8" stroke="#aaa5ee" stroke-width="3" transform="rotate(25 1476.5 439)"/>
<defs><clipPath id="cov"><path d="M1191.8,469.0 C1192.0,466.2 1194.3,464.3 1197.0,461.5 C1199.7,458.7 1206.9,451.4 1211.0,448.7 C1215.1,446.0 1222.4,443.6 1226.0,442.4 C1229.6,441.2 1232.8,440.6 1236.4,439.8 C1240.0,439.0 1247.5,436.6 1251.6,436.6 C1255.7,436.6 1262.7,438.8 1265.6,439.8 C1268.5,440.8 1269.8,443.7 1272.0,443.6 C1274.2,443.5 1277.1,439.2 1281.0,439.2 C1284.9,439.2 1296.1,441.4 1300.0,443.6 C1303.9,445.8 1306.9,451.6 1309.0,455.0 C1311.1,458.4 1313.7,464.6 1314.7,467.8 C1315.7,471.0 1316.7,474.6 1316.0,478.0 C1315.3,481.4 1312.6,488.3 1310.0,492.0 C1307.4,495.7 1301.6,501.8 1297.5,504.7 C1293.4,507.6 1286.0,511.2 1281.0,512.4 C1276.0,513.6 1267.2,514.1 1261.8,513.6 C1256.4,513.1 1248.0,510.2 1242.7,508.6 C1237.4,507.0 1228.9,504.0 1223.6,502.0 C1218.3,500.0 1208.4,497.4 1204.5,494.6 C1200.6,491.8 1197.4,485.4 1195.6,481.8 C1193.8,478.2 1191.6,471.8 1191.8,469.0Z"/></clipPath>
<clipPath id="ctr"><path d="M1092.5,415.0 C1094.8,414.5 1105.7,411.0 1110.0,411.0 C1114.3,411.0 1120.3,415.3 1125.0,415.0 C1129.7,414.7 1139.7,408.2 1145.0,409.0 C1150.3,409.8 1160.3,420.9 1165.0,421.0 C1169.7,421.1 1174.7,410.7 1180.0,410.0 C1185.3,409.3 1199.7,417.9 1205.0,416.0 C1210.3,414.1 1214.7,398.9 1220.0,396.0 C1225.3,393.1 1237.3,396.1 1245.0,394.0 C1252.7,391.9 1268.8,383.9 1277.5,380.0 C1286.2,376.1 1301.7,367.7 1310.0,365.0 C1318.3,362.3 1332.0,360.0 1340.0,360.0 C1348.0,360.0 1363.7,362.3 1370.0,365.0 C1376.3,367.7 1384.5,374.7 1387.5,380.0 C1390.5,385.3 1392.2,398.3 1392.5,405.0 C1392.8,411.7 1391.7,424.0 1390.0,430.0 C1388.3,436.0 1382.0,445.7 1380.0,450.0 C1378.0,454.3 1375.7,460.4 1375.0,462.0 L1345,442 C1347.0,439.7 1357.7,429.9 1360.0,425.0 C1362.3,420.1 1363.5,409.7 1362.5,405.0 C1361.5,400.3 1356.8,392.7 1352.5,390.0 C1348.2,387.3 1336.7,385.0 1330.0,385.0 C1323.3,385.0 1309.5,388.0 1302.5,390.0 C1295.5,392.0 1284.8,397.5 1277.5,400.0 C1270.2,402.5 1254.8,407.3 1247.5,409.0 C1240.2,410.7 1228.2,409.6 1222.5,412.5 C1216.8,415.4 1210.7,429.0 1205.0,431.0 C1199.3,433.0 1185.3,426.8 1180.0,427.5 C1174.7,428.2 1169.3,436.7 1165.0,436.0 C1160.7,435.3 1152.2,423.0 1147.5,422.5 C1142.8,422.0 1135.0,431.8 1130.0,432.5 C1125.0,433.2 1115.0,427.7 1110.0,427.5 C1105.0,427.3 1094.8,430.5 1092.5,431.0Z"/></clipPath></defs>
<path d="M1090.0,438.0 C1093.3,440.8 1100.0,448.0 1110.0,455.0 C1120.0,462.0 1135.0,471.3 1150.0,480.0 C1165.0,488.7 1183.3,498.7 1200.0,507.0 C1216.7,515.3 1235.0,523.7 1250.0,530.0 C1265.0,536.3 1279.3,542.0 1290.0,545.0 C1300.7,548.0 1310.0,547.5 1314.0,548.0 L1312.0,565.0 C1308.3,564.2 1300.3,563.3 1290.0,560.0 C1279.7,556.7 1265.0,551.3 1250.0,545.0 C1235.0,538.7 1216.7,530.3 1200.0,522.0 C1183.3,513.7 1165.0,503.7 1150.0,495.0 C1135.0,486.3 1120.0,477.2 1110.0,470.0 C1100.0,462.8 1093.3,455.0 1090.0,452.0Z" fill="#e6e6e6"/>
<path d="M1090.0,438.0 C1093.3,440.8 1100.0,448.0 1110.0,455.0 C1120.0,462.0 1135.0,471.3 1150.0,480.0 C1165.0,488.7 1183.3,498.7 1200.0,507.0 C1216.7,515.3 1235.0,523.7 1250.0,530.0 C1265.0,536.3 1279.3,542.0 1290.0,545.0 C1300.7,548.0 1310.0,547.5 1314.0,548.0" fill="none" stroke="#b3b3b3" stroke-width="3" stroke-linejoin="round" stroke-linecap="round"/>
<path d="M1090.0,452.0 C1093.3,455.0 1100.0,462.8 1110.0,470.0 C1120.0,477.2 1135.0,486.3 1150.0,495.0 C1165.0,503.7 1183.3,513.7 1200.0,522.0 C1216.7,530.3 1235.0,538.7 1250.0,545.0 C1265.0,551.3 1279.7,556.7 1290.0,560.0 C1300.3,563.3 1308.3,564.2 1312.0,565.0" fill="none" stroke="#bcb4b4" stroke-width="3" stroke-linejoin="round" stroke-linecap="round"/>
<ellipse cx="1319.5" cy="557" rx="6" ry="8.5" fill="#fff" stroke="#b3b3b3" stroke-width="3.5" transform="rotate(-15 1319.5 557)"/>
<path d="M1191.8,469.0 C1192.0,466.2 1194.3,464.3 1197.0,461.5 C1199.7,458.7 1206.9,451.4 1211.0,448.7 C1215.1,446.0 1222.4,443.6 1226.0,442.4 C1229.6,441.2 1232.8,440.6 1236.4,439.8 C1240.0,439.0 1247.5,436.6 1251.6,436.6 C1255.7,436.6 1262.7,438.8 1265.6,439.8 C1268.5,440.8 1269.8,443.7 1272.0,443.6 C1274.2,443.5 1277.1,439.2 1281.0,439.2 C1284.9,439.2 1296.1,441.4 1300.0,443.6 C1303.9,445.8 1306.9,451.6 1309.0,455.0 C1311.1,458.4 1313.7,464.6 1314.7,467.8 C1315.7,471.0 1316.7,474.6 1316.0,478.0 C1315.3,481.4 1312.6,488.3 1310.0,492.0 C1307.4,495.7 1301.6,501.8 1297.5,504.7 C1293.4,507.6 1286.0,511.2 1281.0,512.4 C1276.0,513.6 1267.2,514.1 1261.8,513.6 C1256.4,513.1 1248.0,510.2 1242.7,508.6 C1237.4,507.0 1228.9,504.0 1223.6,502.0 C1218.3,500.0 1208.4,497.4 1204.5,494.6 C1200.6,491.8 1197.4,485.4 1195.6,481.8 C1193.8,478.2 1191.6,471.8 1191.8,469.0Z" fill="#e8d9bd"/>
<path d="M1185,466 C1230,470 1280,470 1320,466 L1320,483 C1280,487 1230,487 1185,482Z" fill="#dccdc3" clip-path="url(#cov)"/>
<path d="M1192.0,474.0 C1193.3,476.3 1196.2,483.8 1200.0,488.0 C1203.8,492.2 1208.3,495.8 1215.0,499.0 C1221.7,502.2 1232.2,504.8 1240.0,507.0 C1247.8,509.2 1254.5,511.5 1262.0,512.0 C1269.5,512.5 1278.7,511.7 1285.0,510.0 C1291.3,508.3 1295.7,505.3 1300.0,502.0 C1304.3,498.7 1308.5,494.3 1311.0,490.0 C1313.5,485.7 1314.3,478.3 1315.0,476.0" fill="none" stroke="#dccdc3" stroke-width="9" clip-path="url(#cov)"/>
<path d="M1191.8,469.0 C1192.0,466.2 1194.3,464.3 1197.0,461.5 C1199.7,458.7 1206.9,451.4 1211.0,448.7 C1215.1,446.0 1222.4,443.6 1226.0,442.4 C1229.6,441.2 1232.8,440.6 1236.4,439.8 C1240.0,439.0 1247.5,436.6 1251.6,436.6 C1255.7,436.6 1262.7,438.8 1265.6,439.8 C1268.5,440.8 1269.8,443.7 1272.0,443.6 C1274.2,443.5 1277.1,439.2 1281.0,439.2 C1284.9,439.2 1296.1,441.4 1300.0,443.6 C1303.9,445.8 1306.9,451.6 1309.0,455.0 C1311.1,458.4 1313.7,464.6 1314.7,467.8 C1315.7,471.0 1316.7,474.6 1316.0,478.0 C1315.3,481.4 1312.6,488.3 1310.0,492.0 C1307.4,495.7 1301.6,501.8 1297.5,504.7 C1293.4,507.6 1286.0,511.2 1281.0,512.4 C1276.0,513.6 1267.2,514.1 1261.8,513.6 C1256.4,513.1 1248.0,510.2 1242.7,508.6 C1237.4,507.0 1228.9,504.0 1223.6,502.0 C1218.3,500.0 1208.4,497.4 1204.5,494.6 C1200.6,491.8 1197.4,485.4 1195.6,481.8 C1193.8,478.2 1191.6,471.8 1191.8,469.0Z" fill="none" stroke="#a59e9e" stroke-width="3.8" stroke-linejoin="round" stroke-linecap="round"/>
<path d="M1090.0,443.0 C1098.5,445.8 1123.3,456.4 1141.0,460.0 C1158.7,463.6 1175.7,463.5 1196.0,464.7 C1216.3,465.9 1243.0,466.7 1263.0,467.0 C1283.0,467.3 1295.6,467.6 1316.0,466.7 C1336.4,465.8 1363.5,464.4 1385.6,461.8 C1407.7,459.2 1438.3,452.8 1448.8,451.0" fill="none" stroke="#b3b3b3" stroke-width="3.5" stroke-linejoin="round" stroke-linecap="round"/>
<path d="M1120.0,462.0 C1126.7,464.0 1147.3,471.0 1160.0,474.0 C1172.7,477.0 1178.8,478.7 1196.0,480.0 C1213.2,481.3 1243.0,482.0 1263.0,482.0 C1283.0,482.0 1295.7,481.3 1316.0,480.0 C1336.3,478.7 1365.0,476.3 1385.0,474.0 C1405.0,471.7 1427.5,467.3 1436.0,466.0" fill="none" stroke="#cfc7c7" stroke-width="2.5" stroke-linejoin="round" stroke-linecap="round"/>
<path d="M1343.0,444.0 C1343.2,445.8 1345.9,463.5 1345.0,466.0 C1344.1,468.5 1334.5,472.8 1332.6,474.5 C1330.7,476.2 1322.3,486.0 1322.5,486.7 C1322.7,487.4 1333.5,480.7 1334.7,482.6 C1335.9,484.5 1335.8,507.8 1336.7,509.0 C1337.6,510.2 1343.8,496.9 1345.0,497.0 C1346.2,497.1 1350.2,509.8 1351.0,510.0 C1351.8,510.2 1354.1,499.0 1355.0,499.0 C1355.9,499.0 1361.2,510.0 1362.0,510.0 C1362.8,510.0 1363.5,499.3 1365.0,499.0 C1366.5,498.7 1378.8,506.3 1379.5,506.0 C1380.2,505.7 1373.0,496.4 1373.4,495.0 C1373.8,493.6 1384.3,490.8 1384.6,488.7 C1384.9,486.6 1377.8,473.5 1377.5,470.4 C1377.2,467.3 1381.2,453.5 1381.5,452.0Z" fill="#e4c4b8"/>
<path d="M1345.0,466.0 C1344.0,466.7 1334.5,472.8 1332.6,474.5 C1330.7,476.2 1322.3,486.0 1322.5,486.7 C1322.7,487.4 1333.5,480.7 1334.7,482.6 C1335.9,484.5 1335.8,507.8 1336.7,509.0 C1337.6,510.2 1343.8,496.9 1345.0,497.0 C1346.2,497.1 1350.2,509.8 1351.0,510.0 C1351.8,510.2 1354.1,499.0 1355.0,499.0 C1355.9,499.0 1361.2,510.0 1362.0,510.0 C1362.8,510.0 1363.5,499.3 1365.0,499.0 C1366.5,498.7 1378.8,506.3 1379.5,506.0 C1380.2,505.7 1373.0,496.4 1373.4,495.0 C1373.8,493.6 1384.3,490.8 1384.6,488.7 C1384.9,486.6 1377.8,473.5 1377.5,470.4 C1377.2,467.3 1381.2,453.5 1381.5,452.0" fill="none" stroke="#f07c7c" stroke-width="2.6" stroke-linejoin="round" stroke-linecap="round"/>
<path d="M1360,468 L1336,500" fill="none" stroke="#e8a090" stroke-width="1"/>
<path d="M1360,468 L1348,503" fill="none" stroke="#e8a090" stroke-width="1"/>
<path d="M1360,468 L1362,503" fill="none" stroke="#e8a090" stroke-width="1"/>
<path d="M1360,468 L1375,498" fill="none" stroke="#e8a090" stroke-width="1"/>
<path d="M1305,450 C1320,446 1335,445 1345,444" fill="none" stroke="#ff8080" stroke-width="1.6"/>
<path d="M1308,458 C1322,454 1335,452 1347,450" fill="none" stroke="#ff8080" stroke-width="1.6"/>
<path d="M1092.5,415.0 C1094.8,414.5 1105.7,411.0 1110.0,411.0 C1114.3,411.0 1120.3,415.3 1125.0,415.0 C1129.7,414.7 1139.7,408.2 1145.0,409.0 C1150.3,409.8 1160.3,420.9 1165.0,421.0 C1169.7,421.1 1174.7,410.7 1180.0,410.0 C1185.3,409.3 1199.7,417.9 1205.0,416.0 C1210.3,414.1 1214.7,398.9 1220.0,396.0 C1225.3,393.1 1237.3,396.1 1245.0,394.0 C1252.7,391.9 1268.8,383.9 1277.5,380.0 C1286.2,376.1 1301.7,367.7 1310.0,365.0 C1318.3,362.3 1332.0,360.0 1340.0,360.0 C1348.0,360.0 1363.7,362.3 1370.0,365.0 C1376.3,367.7 1384.5,374.7 1387.5,380.0 C1390.5,385.3 1392.2,398.3 1392.5,405.0 C1392.8,411.7 1391.7,424.0 1390.0,430.0 C1388.3,436.0 1382.0,445.7 1380.0,450.0 C1378.0,454.3 1375.7,460.4 1375.0,462.0 L1345,442 C1347.0,439.7 1357.7,429.9 1360.0,425.0 C1362.3,420.1 1363.5,409.7 1362.5,405.0 C1361.5,400.3 1356.8,392.7 1352.5,390.0 C1348.2,387.3 1336.7,385.0 1330.0,385.0 C1323.3,385.0 1309.5,388.0 1302.5,390.0 C1295.5,392.0 1284.8,397.5 1277.5,400.0 C1270.2,402.5 1254.8,407.3 1247.5,409.0 C1240.2,410.7 1228.2,409.6 1222.5,412.5 C1216.8,415.4 1210.7,429.0 1205.0,431.0 C1199.3,433.0 1185.3,426.8 1180.0,427.5 C1174.7,428.2 1169.3,436.7 1165.0,436.0 C1160.7,435.3 1152.2,423.0 1147.5,422.5 C1142.8,422.0 1135.0,431.8 1130.0,432.5 C1125.0,433.2 1115.0,427.7 1110.0,427.5 C1105.0,427.3 1094.8,430.5 1092.5,431.0Z" fill="#f4c7a8"/>
<path d="M1345.0,442.0 C1347.0,439.7 1357.7,429.9 1360.0,425.0 C1362.3,420.1 1363.5,409.7 1362.5,405.0 C1361.5,400.3 1356.8,392.7 1352.5,390.0 C1348.2,387.3 1336.7,385.0 1330.0,385.0 C1323.3,385.0 1309.5,388.0 1302.5,390.0 C1295.5,392.0 1284.8,397.5 1277.5,400.0 C1270.2,402.5 1254.8,407.3 1247.5,409.0 C1240.2,410.7 1228.2,409.6 1222.5,412.5 C1216.8,415.4 1210.7,429.0 1205.0,431.0 C1199.3,433.0 1185.3,426.8 1180.0,427.5 C1174.7,428.2 1169.3,436.7 1165.0,436.0 C1160.7,435.3 1152.2,423.0 1147.5,422.5 C1142.8,422.0 1135.0,431.8 1130.0,432.5 C1125.0,433.2 1115.0,427.7 1110.0,427.5 C1105.0,427.3 1094.8,430.5 1092.5,431.0" fill="none" stroke="#dbbcae" stroke-width="11" clip-path="url(#ctr)" stroke-linejoin="round"/>
<path d="M1092.5,415.0 C1094.8,414.5 1105.7,411.0 1110.0,411.0 C1114.3,411.0 1120.3,415.3 1125.0,415.0 C1129.7,414.7 1139.7,408.2 1145.0,409.0 C1150.3,409.8 1160.3,420.9 1165.0,421.0 C1169.7,421.1 1174.7,410.7 1180.0,410.0 C1185.3,409.3 1199.7,417.9 1205.0,416.0 C1210.3,414.1 1214.7,398.9 1220.0,396.0 C1225.3,393.1 1237.3,396.1 1245.0,394.0 C1252.7,391.9 1268.8,383.9 1277.5,380.0 C1286.2,376.1 1301.7,367.7 1310.0,365.0 C1318.3,362.3 1332.0,360.0 1340.0,360.0 C1348.0,360.0 1363.7,362.3 1370.0,365.0 C1376.3,367.7 1384.5,374.7 1387.5,380.0 C1390.5,385.3 1392.2,398.3 1392.5,405.0 C1392.8,411.7 1391.7,424.0 1390.0,430.0 C1388.3,436.0 1381.3,447.3 1380.0,450.0" fill="none" stroke="#4d4d4d" stroke-width="2.5" stroke-linejoin="round" stroke-linecap="round"/>
<path d="M1345.0,442.0 C1347.0,439.7 1357.7,429.9 1360.0,425.0 C1362.3,420.1 1363.5,409.7 1362.5,405.0 C1361.5,400.3 1356.8,392.7 1352.5,390.0 C1348.2,387.3 1336.7,385.0 1330.0,385.0 C1323.3,385.0 1309.5,388.0 1302.5,390.0 C1295.5,392.0 1284.8,397.5 1277.5,400.0 C1270.2,402.5 1254.8,407.3 1247.5,409.0 C1240.2,410.7 1228.2,409.6 1222.5,412.5 C1216.8,415.4 1210.7,429.0 1205.0,431.0 C1199.3,433.0 1185.3,426.8 1180.0,427.5 C1174.7,428.2 1169.3,436.7 1165.0,436.0 C1160.7,435.3 1152.2,423.0 1147.5,422.5 C1142.8,422.0 1135.0,431.8 1130.0,432.5 C1125.0,433.2 1115.0,427.7 1110.0,427.5 C1105.0,427.3 1094.8,430.5 1092.5,431.0" fill="none" stroke="#4d4d4d" stroke-width="2.5" stroke-linejoin="round" stroke-linecap="round"/>
<path d="M956.0,352.0 C965.8,353.3 997.7,355.0 1015.0,360.0 C1032.3,365.0 1047.8,374.0 1060.0,382.0 C1072.2,390.0 1082.8,398.3 1088.0,408.0 C1093.2,417.7 1091.2,428.8 1091.0,440.0 C1090.8,451.2 1088.8,463.0 1087.0,475.0 C1085.2,487.0 1083.7,499.5 1080.0,512.0 C1076.3,524.5 1071.7,536.2 1065.0,550.0 C1058.3,563.8 1044.8,584.7 1040.0,595.0 C1035.2,605.3 1035.7,601.2 1036.0,612.0 C1036.3,622.8 1040.2,644.2 1042.0,660.0 C1043.8,675.8 1046.2,699.2 1047.0,707.0 L1047,990 L956,990Z" fill="#f4c7a8"/>
<path d="M956,432 C1000,430 1050,425 1091,418 L1091,440 C1090.3,445.8 1088.8,463.0 1087.0,475.0 C1085.2,487.0 1083.7,499.5 1080.0,512.0 C1076.3,524.5 1071.7,536.2 1065.0,550.0 C1058.3,563.8 1044.8,584.7 1040.0,595.0 C1035.2,605.3 1035.7,601.2 1036.0,612.0 C1036.3,622.8 1040.2,644.2 1042.0,660.0 C1043.8,675.8 1046.2,699.2 1047.0,707.0 C1020,735 980,730 956,725Z" fill="#d9bcb0"/>
<path d="M956,725 C980,730 1020,735 1047,707 L1045,900 L956,900Z" fill="#ffccaa"/>
<path d="M956,900 L1044,900 C1044,940 1030,975 981,982 L956,982Z" fill="#ffccaa"/>
<path d="M1018,735 C1030,732 1040,722 1047,707 L1043,900 C1043,940 1030,970 1000,978 C1015,960 1022,930 1020,880Z" fill="#dcc4b4"/>
<path d="M957,620 C1000,620 1040,660 1050,707" fill="none" stroke="#808080" stroke-width="3.5" stroke-linejoin="round" stroke-linecap="round"/>
<path d="M956.0,352.0 C965.8,353.3 997.7,355.0 1015.0,360.0 C1032.3,365.0 1047.8,374.0 1060.0,382.0 C1072.2,390.0 1082.8,398.3 1088.0,408.0 C1093.2,417.7 1091.2,428.8 1091.0,440.0 C1090.8,451.2 1088.8,463.0 1087.0,475.0 C1085.2,487.0 1083.7,499.5 1080.0,512.0 C1076.3,524.5 1071.7,536.2 1065.0,550.0 C1058.3,563.8 1044.2,587.5 1040.0,595.0" fill="none" stroke="#4d4d4d" stroke-width="2" stroke-linejoin="round" stroke-linecap="round"/>
<path d="M1040.0,595.0 C1039.3,597.8 1035.7,601.2 1036.0,612.0 C1036.3,622.8 1040.2,644.2 1042.0,660.0 C1043.8,675.8 1046.2,699.2 1047.0,707.0" fill="none" stroke="#808080" stroke-width="2.5" stroke-linejoin="round" stroke-linecap="round"/>
<path d="M1050,707 C1047,760 1044,820 1042,900 C1042,945 1028,975 982,982" fill="none" stroke="#c85000" stroke-width="5.6" stroke-linejoin="round" stroke-linecap="round"/>
<path d="M1086.1,409.7 C1084.4,409.2 1079.4,408.9 1076.1,406.6 C1072.8,404.3 1069.5,398.6 1066.2,395.7 C1062.9,392.9 1059.6,390.0 1056.3,389.2 C1052.9,388.5 1048.0,390.9 1046.3,391.2" fill="none" stroke="#ff7070" stroke-width="2.0" stroke-linejoin="round" stroke-linecap="round"/>
<path d="M1046.3,391.2 C1044.7,390.5 1039.7,389.2 1036.4,387.0 C1033.1,384.7 1029.8,380.0 1026.5,377.6 C1023.2,375.2 1019.8,373.5 1016.5,372.7 C1013.2,371.9 1009.9,373.9 1006.6,372.9 C1003.3,372.0 1000.0,369.3 996.7,367.1 C993.4,364.9 988.4,361.0 986.7,359.7" fill="none" stroke="#ff7070" stroke-width="1.1" stroke-linejoin="round" stroke-linecap="round"/>
<path d="M1046.3,392.9 C1045.0,393.4 1041.1,395.4 1038.6,395.5 C1036.0,395.7 1033.4,394.0 1030.8,394.0 C1028.2,393.9 1025.6,394.2 1023.0,395.3 C1020.4,396.4 1017.8,399.2 1015.2,400.8 C1012.6,402.4 1008.7,404.0 1007.4,404.7" fill="none" stroke="#ff7070" stroke-width="1.0" stroke-linejoin="round" stroke-linecap="round"/>
<path d="M1086.9,414.3 C1085.5,414.2 1081.3,416.1 1078.5,414.1 C1075.7,412.1 1072.9,405.1 1070.1,402.3 C1067.3,399.5 1064.6,397.6 1061.8,397.4 C1059.0,397.2 1056.2,401.3 1053.4,401.1 C1050.6,400.9 1046.4,396.9 1045.0,396.1" fill="none" stroke="#8080ff" stroke-width="2.0" stroke-linejoin="round" stroke-linecap="round"/>
<path d="M1045.0,396.1 C1043.6,394.4 1039.4,387.6 1036.6,385.8 C1033.8,384.0 1031.0,385.2 1028.2,385.2 C1025.4,385.3 1022.6,387.3 1019.8,386.1 C1017.0,384.9 1014.2,380.6 1011.4,378.2 C1008.6,375.8 1005.8,372.7 1003.1,371.4 C1000.3,370.2 997.5,371.0 994.7,370.8 C991.9,370.6 987.7,370.4 986.3,370.3" fill="none" stroke="#8080ff" stroke-width="1.1" stroke-linejoin="round" stroke-linecap="round"/>
<path d="M1086.3,417.1 C1084.8,415.9 1080.6,410.3 1077.7,409.8 C1074.9,409.2 1072.0,412.7 1069.2,413.7 C1066.3,414.8 1063.5,417.0 1060.6,416.1 C1057.8,415.1 1054.9,410.7 1052.0,408.1 C1049.2,405.4 1046.3,400.7 1043.5,400.1 C1040.6,399.6 1036.4,404.1 1034.9,404.8" fill="none" stroke="#ff7070" stroke-width="2.0" stroke-linejoin="round" stroke-linecap="round"/>
<path d="M1034.9,404.8 C1033.5,404.9 1029.2,406.6 1026.4,405.2 C1023.5,403.9 1020.7,399.0 1017.8,396.8 C1015.0,394.5 1012.1,392.0 1009.3,391.9 C1006.4,391.7 1003.6,395.5 1000.7,396.0 C997.9,396.5 995.0,396.7 992.2,395.1 C989.3,393.5 986.5,388.2 983.6,386.4 C980.7,384.5 977.9,384.1 975.0,383.8 C972.2,383.5 967.9,384.4 966.5,384.5" fill="none" stroke="#ff7070" stroke-width="1.1" stroke-linejoin="round" stroke-linecap="round"/>
<path d="M1084.1,418.5 C1082.2,418.3 1076.5,419.0 1072.8,417.0 C1069.0,415.0 1065.2,409.5 1061.4,406.6 C1057.6,403.6 1051.9,400.6 1050.0,399.4" fill="none" stroke="#8080ff" stroke-width="2.0" stroke-linejoin="round" stroke-linecap="round"/>
<path d="M1050.0,399.4 C1048.1,399.8 1042.5,402.1 1038.7,401.7 C1034.9,401.3 1031.1,399.2 1027.3,396.9 C1023.5,394.6 1019.7,390.3 1016.0,388.0 C1012.2,385.8 1008.4,384.0 1004.6,383.3 C1000.8,382.6 995.1,383.6 993.2,383.7" fill="none" stroke="#8080ff" stroke-width="1.1" stroke-linejoin="round" stroke-linecap="round"/>
<path d="M1050.0,398.1 C1048.7,398.9 1044.6,402.3 1041.9,402.7 C1039.2,403.1 1036.5,401.2 1033.7,400.4 C1031.0,399.6 1028.3,398.0 1025.6,397.9 C1022.9,397.8 1020.2,398.8 1017.5,399.6 C1014.7,400.5 1010.7,402.4 1009.3,403.0" fill="none" stroke="#8080ff" stroke-width="1.0" stroke-linejoin="round" stroke-linecap="round"/>
<path d="M1082.3,405.0 C1080.5,404.5 1075.4,401.6 1071.9,402.0 C1068.5,402.5 1065.0,406.9 1061.6,407.6 C1058.2,408.4 1054.7,407.7 1051.3,406.5 C1047.8,405.3 1042.7,401.5 1041.0,400.5" fill="none" stroke="#ff7070" stroke-width="2.0" stroke-linejoin="round" stroke-linecap="round"/>
<path d="M1041.0,400.5 C1039.2,400.5 1034.1,400.1 1030.6,400.6 C1027.2,401.0 1023.8,403.3 1020.3,403.4 C1016.9,403.4 1013.4,402.0 1010.0,400.8 C1006.5,399.5 1003.1,396.6 999.7,395.8 C996.2,395.0 992.8,395.9 989.3,396.0 C985.9,396.1 982.5,396.6 979.0,396.5 C975.6,396.5 970.4,395.9 968.7,395.8" fill="none" stroke="#ff7070" stroke-width="1.1" stroke-linejoin="round" stroke-linecap="round"/>
<path d="M1082.8,416.0 C1080.8,416.0 1074.9,417.2 1071.0,415.9 C1067.1,414.7 1063.2,409.9 1059.2,408.4 C1055.3,406.9 1051.4,406.9 1047.5,407.0 C1043.6,407.1 1037.7,408.6 1035.7,408.9" fill="none" stroke="#8080ff" stroke-width="2.0" stroke-linejoin="round" stroke-linecap="round"/>
<path d="M1035.7,408.9 C1033.8,408.3 1027.9,406.7 1024.0,405.2 C1020.0,403.7 1016.1,400.8 1012.2,400.0 C1008.3,399.1 1004.4,400.0 1000.4,400.2 C996.5,400.4 992.6,401.8 988.7,401.0 C984.8,400.3 978.9,396.5 976.9,395.5" fill="none" stroke="#8080ff" stroke-width="1.1" stroke-linejoin="round" stroke-linecap="round"/>
<path d="M1089.0,445.0 C1087.4,444.9 1082.6,445.9 1079.4,444.4 C1076.2,442.9 1072.9,437.4 1069.7,436.0 C1066.5,434.7 1063.3,435.5 1060.1,436.2 C1056.9,436.9 1053.7,440.0 1050.5,440.3 C1047.2,440.7 1042.4,438.6 1040.8,438.3" fill="none" stroke="#ff7070" stroke-width="2.0" stroke-linejoin="round" stroke-linecap="round"/>
<path d="M1040.8,438.3 C1039.2,437.4 1034.4,433.7 1031.2,433.0 C1028.0,432.2 1024.8,432.8 1021.5,433.8 C1018.3,434.8 1015.1,438.8 1011.9,438.9 C1008.7,439.0 1005.5,436.1 1002.3,434.5 C999.1,433.0 995.8,429.9 992.6,429.7 C989.4,429.5 986.2,432.6 983.0,433.4 C979.8,434.3 976.6,435.2 973.4,434.8 C970.1,434.3 965.3,431.5 963.7,430.9" fill="none" stroke="#ff7070" stroke-width="1.1" stroke-linejoin="round" stroke-linecap="round"/>
<path d="M1040.8,438.7 C1039.7,439.2 1036.5,441.3 1034.3,441.4 C1032.2,441.4 1030.0,439.9 1027.8,439.2 C1025.7,438.5 1023.5,437.5 1021.4,437.1 C1019.2,436.7 1015.9,436.9 1014.9,436.9" fill="none" stroke="#ff7070" stroke-width="1.0" stroke-linejoin="round" stroke-linecap="round"/>
<path d="M1089.0,439.0 C1087.5,439.7 1083.1,442.6 1080.1,443.4 C1077.1,444.1 1074.2,444.8 1071.2,443.6 C1068.2,442.4 1065.3,437.9 1062.3,436.2 C1059.3,434.4 1056.4,433.3 1053.4,433.3 C1050.4,433.2 1046.0,435.5 1044.5,436.0" fill="none" stroke="#8080ff" stroke-width="2.0" stroke-linejoin="round" stroke-linecap="round"/>
<path d="M1044.5,436.0 C1043.0,435.9 1038.6,436.9 1035.6,435.6 C1032.6,434.4 1029.7,430.2 1026.7,428.6 C1023.7,427.1 1020.8,426.2 1017.8,426.4 C1014.8,426.5 1011.9,429.1 1008.9,429.3 C1005.9,429.6 1003.0,429.1 1000.0,427.9 C997.0,426.7 994.1,423.2 991.1,422.3 C988.1,421.4 985.2,422.2 982.2,422.6 C979.2,423.1 974.8,424.7 973.3,425.1" fill="none" stroke="#8080ff" stroke-width="1.1" stroke-linejoin="round" stroke-linecap="round"/>
<path d="M1044.5,434.8 C1043.1,435.7 1039.0,439.1 1036.2,439.8 C1033.5,440.4 1030.7,438.9 1028.0,438.6 C1025.2,438.3 1022.5,437.3 1019.7,438.0 C1017.0,438.7 1014.2,441.3 1011.5,442.7 C1008.7,444.1 1006.0,445.8 1003.2,446.4 C1000.5,446.9 997.7,445.8 995.0,445.9 C992.2,446.1 988.1,447.3 986.7,447.5" fill="none" stroke="#8080ff" stroke-width="1.0" stroke-linejoin="round" stroke-linecap="round"/>
<path d="M1087.6,450.5 C1085.8,451.0 1080.2,453.9 1076.5,453.7 C1072.8,453.6 1069.1,451.5 1065.4,449.7 C1061.7,447.9 1057.9,443.6 1054.2,442.7 C1050.5,441.7 1045.0,443.9 1043.1,444.1" fill="none" stroke="#ff7070" stroke-width="2.0" stroke-linejoin="round" stroke-linecap="round"/>
<path d="M1043.1,444.1 C1041.3,444.3 1035.7,445.3 1032.0,445.0 C1028.3,444.7 1024.6,443.6 1020.8,442.4 C1017.1,441.2 1013.4,438.8 1009.7,437.8 C1006.0,436.8 1002.3,436.7 998.6,436.6 C994.9,436.5 991.2,437.5 987.5,437.3 C983.7,437.0 978.2,435.3 976.3,434.9" fill="none" stroke="#ff7070" stroke-width="1.1" stroke-linejoin="round" stroke-linecap="round"/>
<path d="M1087.6,455.4 C1085.6,455.1 1079.3,455.3 1075.2,453.3 C1071.0,451.3 1066.9,444.6 1062.7,443.4 C1058.6,442.2 1054.4,444.6 1050.3,446.2 C1046.1,447.8 1039.9,452.0 1037.8,453.1" fill="none" stroke="#8080ff" stroke-width="2.0" stroke-linejoin="round" stroke-linecap="round"/>
<path d="M1037.8,453.1 C1035.8,452.0 1029.6,448.6 1025.4,446.6 C1021.3,444.6 1017.1,440.8 1013.0,441.1 C1008.8,441.4 1004.7,447.0 1000.5,448.6 C996.4,450.1 992.2,451.0 988.1,450.2 C983.9,449.5 979.8,445.2 975.6,444.1 C971.5,443.0 965.3,443.6 963.2,443.6" fill="none" stroke="#8080ff" stroke-width="1.1" stroke-linejoin="round" stroke-linecap="round"/>
<path d="M1037.8,455.4 C1036.5,455.2 1032.6,454.7 1029.9,454.2 C1027.3,453.6 1024.6,451.7 1022.0,452.2 C1019.3,452.6 1016.7,455.6 1014.1,456.7 C1011.4,457.9 1008.8,458.9 1006.1,459.1 C1003.5,459.4 1000.8,458.4 998.2,458.1 C995.6,457.8 992.9,456.6 990.3,457.3 C987.6,458.0 983.7,461.6 982.3,462.5" fill="none" stroke="#8080ff" stroke-width="1.0" stroke-linejoin="round" stroke-linecap="round"/>
<path d="M1085.6,465.5 C1083.8,466.9 1078.7,473.1 1075.2,473.6 C1071.7,474.0 1068.3,470.6 1064.8,468.1 C1061.4,465.5 1057.9,459.1 1054.4,458.3 C1051.0,457.6 1045.8,462.9 1044.1,463.8" fill="none" stroke="#ff7070" stroke-width="2.0" stroke-linejoin="round" stroke-linecap="round"/>
<path d="M1044.1,463.8 C1042.3,464.3 1037.2,467.9 1033.7,467.1 C1030.2,466.4 1026.8,460.9 1023.3,459.2 C1019.9,457.5 1016.4,456.6 1013.0,456.8 C1009.5,457.0 1006.0,459.6 1002.6,460.3 C999.1,461.1 995.7,462.0 992.2,461.1 C988.7,460.2 985.3,456.1 981.8,454.8 C978.4,453.5 973.2,453.7 971.5,453.5" fill="none" stroke="#ff7070" stroke-width="1.1" stroke-linejoin="round" stroke-linecap="round"/>
<path d="M1044.1,459.9 C1042.6,460.8 1038.3,464.4 1035.4,465.3 C1032.6,466.3 1029.7,466.0 1026.8,465.5 C1023.9,465.0 1021.1,462.5 1018.2,462.3 C1015.3,462.2 1012.4,464.0 1009.6,464.8 C1006.7,465.5 1002.4,466.3 1000.9,466.6" fill="none" stroke="#ff7070" stroke-width="1.0" stroke-linejoin="round" stroke-linecap="round"/>
<path d="M1085.6,470.4 C1083.8,469.3 1078.5,464.7 1074.9,464.1 C1071.4,463.4 1067.8,465.7 1064.3,466.5 C1060.7,467.2 1057.2,469.4 1053.6,468.6 C1050.0,467.8 1044.7,462.9 1042.9,461.7" fill="none" stroke="#8080ff" stroke-width="2.0" stroke-linejoin="round" stroke-linecap="round"/>
<path d="M1042.9,461.7 C1041.2,461.0 1035.8,457.8 1032.3,457.3 C1028.7,456.8 1025.2,458.4 1021.6,458.8 C1018.1,459.3 1014.5,460.8 1011.0,460.0 C1007.4,459.3 1003.9,456.3 1000.3,454.4 C996.8,452.4 993.2,449.1 989.7,448.3 C986.1,447.6 980.8,449.9 979.0,450.2" fill="none" stroke="#8080ff" stroke-width="1.1" stroke-linejoin="round" stroke-linecap="round"/>
<path d="M1082.7,493.7 C1081.4,493.1 1077.4,491.3 1074.8,489.7 C1072.1,488.2 1069.5,484.6 1066.8,484.5 C1064.2,484.4 1061.5,487.8 1058.9,488.9 C1056.2,489.9 1053.6,491.2 1050.9,490.9 C1048.3,490.6 1045.6,488.5 1043.0,487.1 C1040.3,485.7 1036.3,483.3 1035.0,482.5" fill="none" stroke="#ff7070" stroke-width="2.0" stroke-linejoin="round" stroke-linecap="round"/>
<path d="M1035.0,482.5 C1033.7,482.9 1029.7,483.8 1027.1,485.0 C1024.4,486.1 1021.8,489.5 1019.1,489.6 C1016.5,489.6 1013.8,486.8 1011.1,485.1 C1008.5,483.5 1005.8,479.8 1003.2,479.8 C1000.5,479.7 997.9,483.8 995.2,484.7 C992.6,485.6 989.9,485.9 987.3,485.3 C984.6,484.8 982.0,482.4 979.3,481.5 C976.7,480.6 974.0,479.8 971.4,479.9 C968.7,480.1 964.8,481.8 963.4,482.1" fill="none" stroke="#ff7070" stroke-width="1.1" stroke-linejoin="round" stroke-linecap="round"/>
<path d="M1035.0,484.3 C1033.7,483.7 1029.7,480.9 1027.0,480.5 C1024.3,480.0 1021.6,481.0 1019.0,481.5 C1016.3,481.9 1013.6,482.8 1010.9,483.2 C1008.3,483.6 1005.6,484.2 1002.9,483.9 C1000.3,483.6 996.2,481.8 994.9,481.4" fill="none" stroke="#ff7070" stroke-width="1.0" stroke-linejoin="round" stroke-linecap="round"/>
<path d="M1082.7,483.3 C1081.4,484.2 1077.3,489.1 1074.6,488.6 C1071.8,488.1 1069.1,482.5 1066.4,480.4 C1063.7,478.2 1060.9,475.6 1058.2,475.5 C1055.5,475.3 1052.8,478.2 1050.0,479.6 C1047.3,481.0 1044.6,484.5 1041.9,484.0 C1039.1,483.4 1035.0,477.6 1033.7,476.4" fill="none" stroke="#8080ff" stroke-width="2.0" stroke-linejoin="round" stroke-linecap="round"/>
<path d="M1033.7,476.4 C1032.3,475.8 1028.2,472.6 1025.5,472.9 C1022.8,473.2 1020.1,477.0 1017.3,478.2 C1014.6,479.3 1011.9,480.6 1009.2,479.9 C1006.4,479.2 1003.7,475.3 1001.0,473.8 C998.3,472.4 995.5,471.0 992.8,471.1 C990.1,471.3 987.4,473.9 984.6,474.6 C981.9,475.4 979.2,476.3 976.5,475.5 C973.7,474.7 969.6,470.8 968.3,469.9" fill="none" stroke="#8080ff" stroke-width="1.1" stroke-linejoin="round" stroke-linecap="round"/>
<path d="M1079.7,498.1 C1078.4,499.1 1074.4,503.9 1071.8,504.0 C1069.2,504.1 1066.6,500.4 1063.9,498.7 C1061.3,497.0 1058.7,494.6 1056.0,493.8 C1053.4,492.9 1050.8,492.6 1048.2,493.6 C1045.5,494.7 1042.9,499.7 1040.3,500.1 C1037.7,500.5 1033.7,496.5 1032.4,495.8" fill="none" stroke="#ff7070" stroke-width="2.0" stroke-linejoin="round" stroke-linecap="round"/>
<path d="M1032.4,495.8 C1031.1,494.8 1027.1,490.3 1024.5,489.6 C1021.9,488.9 1019.3,490.5 1016.6,491.6 C1014.0,492.7 1011.4,496.2 1008.7,496.2 C1006.1,496.2 1003.5,493.2 1000.9,491.6 C998.2,489.9 995.6,486.8 993.0,486.2 C990.3,485.7 987.7,487.6 985.1,488.3 C982.5,489.0 979.8,490.6 977.2,490.4 C974.6,490.3 972.0,488.6 969.3,487.4 C966.7,486.2 962.8,484.1 961.4,483.4" fill="none" stroke="#ff7070" stroke-width="1.1" stroke-linejoin="round" stroke-linecap="round"/>
<path d="M1032.4,499.2 C1031.1,498.2 1027.1,494.3 1024.4,493.0 C1021.7,491.7 1019.0,491.7 1016.4,491.6 C1013.7,491.6 1011.0,492.7 1008.4,492.8 C1005.7,492.8 1001.7,492.1 1000.3,492.0" fill="none" stroke="#ff7070" stroke-width="1.0" stroke-linejoin="round" stroke-linecap="round"/>
<path d="M1079.7,504.7 C1078.0,504.3 1072.8,504.2 1069.4,502.3 C1066.0,500.3 1062.5,493.7 1059.1,493.0 C1055.6,492.3 1052.2,496.2 1048.8,498.0 C1045.3,499.7 1040.2,502.6 1038.5,503.5" fill="none" stroke="#8080ff" stroke-width="2.0" stroke-linejoin="round" stroke-linecap="round"/>
<path d="M1038.5,503.5 C1036.7,503.0 1031.6,501.8 1028.1,500.5 C1024.7,499.2 1021.3,496.1 1017.8,495.5 C1014.4,495.0 1011.0,496.2 1007.5,497.3 C1004.1,498.5 1000.6,502.0 997.2,502.5 C993.8,503.0 990.3,501.3 986.9,500.3 C983.4,499.4 980.0,497.2 976.6,496.8 C973.1,496.3 968.0,497.4 966.3,497.5" fill="none" stroke="#8080ff" stroke-width="1.1" stroke-linejoin="round" stroke-linecap="round"/>
<path d="M1074.8,524.1 C1073.5,524.0 1069.3,525.4 1066.6,523.9 C1063.8,522.5 1061.1,516.6 1058.4,515.3 C1055.6,513.9 1052.9,515.0 1050.1,515.7 C1047.4,516.5 1044.6,519.6 1041.9,520.0 C1039.1,520.4 1035.0,518.4 1033.6,518.1" fill="none" stroke="#ff7070" stroke-width="2.0" stroke-linejoin="round" stroke-linecap="round"/>
<path d="M1033.6,518.1 C1032.2,517.2 1028.1,513.2 1025.4,512.6 C1022.6,511.9 1019.9,513.7 1017.1,514.2 C1014.4,514.7 1011.6,516.2 1008.9,515.6 C1006.1,515.1 1003.4,512.3 1000.6,511.0 C997.9,509.7 995.1,507.8 992.4,507.7 C989.6,507.6 986.9,510.0 984.1,510.4 C981.4,510.8 977.3,510.1 975.9,510.1" fill="none" stroke="#ff7070" stroke-width="1.1" stroke-linejoin="round" stroke-linecap="round"/>
<path d="M1033.6,517.7 C1032.2,518.6 1027.9,521.8 1025.1,522.9 C1022.2,524.0 1019.4,523.9 1016.5,524.2 C1013.7,524.4 1010.8,523.4 1008.0,524.3 C1005.1,525.2 1000.8,528.9 999.4,529.8" fill="none" stroke="#ff7070" stroke-width="1.0" stroke-linejoin="round" stroke-linecap="round"/>
<path d="M1074.8,514.7 C1073.4,513.8 1069.0,509.8 1066.1,509.7 C1063.1,509.6 1060.2,512.8 1057.3,514.2 C1054.4,515.6 1051.4,518.7 1048.5,518.2 C1045.6,517.6 1042.7,512.9 1039.7,511.1 C1036.8,509.3 1032.4,507.9 1031.0,507.3" fill="none" stroke="#8080ff" stroke-width="2.0" stroke-linejoin="round" stroke-linecap="round"/>
<path d="M1031.0,507.3 C1029.5,508.2 1025.1,511.4 1022.2,512.5 C1019.3,513.6 1016.3,514.4 1013.4,513.8 C1010.5,513.3 1007.6,510.2 1004.6,509.1 C1001.7,507.9 998.8,506.4 995.9,506.7 C992.9,507.1 990.0,510.3 987.1,511.0 C984.2,511.7 981.2,511.7 978.3,510.9 C975.4,510.2 971.0,507.2 969.5,506.4" fill="none" stroke="#8080ff" stroke-width="1.1" stroke-linejoin="round" stroke-linecap="round"/>
<path d="M1067.7,532.9 C1065.7,533.0 1059.4,533.0 1055.3,533.6 C1051.1,534.1 1047.0,536.8 1042.8,536.2 C1038.7,535.6 1032.5,531.0 1030.4,530.0" fill="none" stroke="#ff7070" stroke-width="2.0" stroke-linejoin="round" stroke-linecap="round"/>
<path d="M1030.4,530.0 C1028.3,529.0 1022.1,525.0 1017.9,524.2 C1013.8,523.5 1009.6,525.8 1005.5,525.6 C1001.3,525.3 997.2,524.2 993.0,522.9 C988.9,521.6 984.8,518.9 980.6,517.6 C976.5,516.3 970.2,515.4 968.2,514.9" fill="none" stroke="#ff7070" stroke-width="1.1" stroke-linejoin="round" stroke-linecap="round"/>
<path d="M1067.7,533.6 C1065.7,534.0 1059.4,534.9 1055.3,536.0 C1051.2,537.2 1047.0,541.2 1042.9,540.4 C1038.7,539.6 1032.5,532.8 1030.4,531.3" fill="none" stroke="#8080ff" stroke-width="2.0" stroke-linejoin="round" stroke-linecap="round"/>
<path d="M1030.4,531.3 C1028.3,530.4 1022.1,525.6 1018.0,525.7 C1013.8,525.8 1009.7,531.6 1005.5,532.0 C1001.4,532.4 997.2,530.1 993.1,528.2 C989.0,526.3 982.7,522.0 980.7,520.7" fill="none" stroke="#8080ff" stroke-width="1.1" stroke-linejoin="round" stroke-linecap="round"/>
<path d="M1030.4,532.1 C1029.1,532.5 1025.0,534.8 1022.3,534.6 C1019.6,534.3 1016.9,531.4 1014.1,530.5 C1011.4,529.6 1008.7,528.9 1006.0,529.2 C1003.3,529.5 1000.6,532.2 997.9,532.6 C995.2,532.9 992.4,531.7 989.7,531.4 C987.0,531.1 983.0,530.7 981.6,530.5" fill="none" stroke="#8080ff" stroke-width="1.0" stroke-linejoin="round" stroke-linecap="round"/>
<path d="M1061.9,545.1 C1060.4,545.9 1055.8,548.1 1052.8,549.6 C1049.8,551.1 1046.7,554.4 1043.7,553.9 C1040.7,553.5 1037.6,548.6 1034.6,546.8 C1031.6,545.1 1027.0,543.9 1025.5,543.3" fill="none" stroke="#ff7070" stroke-width="2.0" stroke-linejoin="round" stroke-linecap="round"/>
<path d="M1025.5,543.3 C1024.0,544.4 1019.5,548.5 1016.4,549.6 C1013.4,550.8 1010.4,551.3 1007.3,550.3 C1004.3,549.3 1001.3,545.0 998.2,543.5 C995.2,542.0 992.2,540.8 989.1,541.3 C986.1,541.8 983.1,545.7 980.0,546.4 C977.0,547.0 974.0,546.0 971.0,545.1 C967.9,544.2 963.4,541.8 961.9,541.1" fill="none" stroke="#ff7070" stroke-width="1.1" stroke-linejoin="round" stroke-linecap="round"/>
<path d="M1025.5,543.9 C1024.0,543.8 1019.5,544.6 1016.5,543.5 C1013.5,542.4 1010.6,538.3 1007.6,537.1 C1004.6,535.9 1001.6,536.5 998.6,536.2 C995.6,535.9 992.6,536.1 989.6,535.3 C986.6,534.4 982.1,531.8 980.6,531.2" fill="none" stroke="#ff7070" stroke-width="1.0" stroke-linejoin="round" stroke-linecap="round"/>
<path d="M1061.9,551.8 C1060.4,552.6 1055.9,556.5 1052.9,556.3 C1049.9,556.0 1046.9,552.0 1043.8,550.1 C1040.8,548.3 1037.8,544.9 1034.8,545.2 C1031.8,545.4 1027.3,550.7 1025.8,551.8" fill="none" stroke="#8080ff" stroke-width="2.0" stroke-linejoin="round" stroke-linecap="round"/>
<path d="M1025.8,551.8 C1024.3,552.1 1019.8,554.4 1016.8,553.3 C1013.8,552.3 1010.8,547.3 1007.8,545.7 C1004.7,544.0 1001.7,542.4 998.7,543.2 C995.7,544.0 992.7,549.6 989.7,550.5 C986.7,551.3 983.7,549.6 980.7,548.5 C977.7,547.3 973.2,544.4 971.7,543.6" fill="none" stroke="#8080ff" stroke-width="1.1" stroke-linejoin="round" stroke-linecap="round"/>
<path d="M1025.8,554.8 C1024.4,554.9 1020.0,555.3 1017.1,555.3 C1014.2,555.3 1011.3,554.2 1008.5,554.8 C1005.6,555.3 1002.7,557.7 999.8,558.8 C996.9,559.9 994.0,560.9 991.1,561.6 C988.2,562.3 983.9,562.7 982.5,562.9" fill="none" stroke="#8080ff" stroke-width="1.0" stroke-linejoin="round" stroke-linecap="round"/>
<path d="M1053.0,572.0 C1051.3,570.8 1046.2,566.7 1042.7,565.1 C1039.3,563.5 1035.9,561.7 1032.5,562.5 C1029.0,563.2 1025.6,568.8 1022.2,569.7 C1018.8,570.7 1013.7,568.4 1011.9,568.2" fill="none" stroke="#ff7070" stroke-width="2.0" stroke-linejoin="round" stroke-linecap="round"/>
<path d="M1011.9,568.2 C1010.2,567.4 1005.1,564.5 1001.7,563.8 C998.3,563.0 994.8,563.2 991.4,563.7 C988.0,564.1 984.6,565.9 981.1,566.4 C977.7,567.0 974.3,567.7 970.9,567.0 C967.5,566.3 962.3,563.0 960.6,562.2" fill="none" stroke="#ff7070" stroke-width="1.1" stroke-linejoin="round" stroke-linecap="round"/>
<path d="M1053.0,571.5 C1051.3,569.7 1046.0,562.6 1042.5,560.4 C1039.1,558.2 1035.6,557.3 1032.1,558.2 C1028.6,559.1 1023.4,564.3 1021.6,565.5" fill="none" stroke="#8080ff" stroke-width="2.0" stroke-linejoin="round" stroke-linecap="round"/>
<path d="M1021.6,565.5 C1019.9,565.7 1014.6,567.9 1011.2,566.4 C1007.7,565.0 1004.2,558.4 1000.7,556.8 C997.2,555.2 993.7,556.5 990.2,557.0 C986.7,557.5 983.3,559.7 979.8,560.1 C976.3,560.4 971.0,559.2 969.3,559.0" fill="none" stroke="#8080ff" stroke-width="1.1" stroke-linejoin="round" stroke-linecap="round"/>
<path d="M1021.6,565.6 C1020.3,566.0 1016.3,568.3 1013.7,568.1 C1011.1,567.9 1008.4,565.5 1005.8,564.5 C1003.2,563.6 1000.5,562.5 997.9,562.3 C995.2,562.2 991.3,563.4 990.0,563.6" fill="none" stroke="#8080ff" stroke-width="1.0" stroke-linejoin="round" stroke-linecap="round"/>
<path d="M1045.2,576.7 C1043.4,577.6 1037.8,581.1 1034.0,582.4 C1030.3,583.6 1024.7,583.8 1022.8,584.0" fill="none" stroke="#ff7070" stroke-width="2.0" stroke-linejoin="round" stroke-linecap="round"/>
<path d="M1022.8,584.0 C1020.9,583.0 1015.3,579.2 1011.6,577.8 C1007.9,576.4 1004.1,575.1 1000.4,575.6 C996.7,576.2 992.9,580.9 989.2,581.2 C985.5,581.5 979.9,577.9 978.0,577.2" fill="none" stroke="#ff7070" stroke-width="1.1" stroke-linejoin="round" stroke-linecap="round"/>
<path d="M1022.8,587.4 C1021.4,587.0 1017.2,585.0 1014.3,584.7 C1011.5,584.5 1008.7,584.7 1005.9,585.7 C1003.0,586.8 1000.2,589.8 997.4,590.9 C994.6,592.0 991.7,592.1 988.9,592.1 C986.1,592.2 983.2,590.8 980.4,591.2 C977.6,591.6 973.4,593.8 971.9,594.3" fill="none" stroke="#ff7070" stroke-width="1.0" stroke-linejoin="round" stroke-linecap="round"/>
<path d="M1045.2,586.5 C1042.8,584.8 1035.5,577.2 1030.7,576.3 C1025.8,575.3 1018.5,580.1 1016.1,580.9" fill="none" stroke="#8080ff" stroke-width="2.0" stroke-linejoin="round" stroke-linecap="round"/>
<path d="M1016.1,580.9 C1013.7,581.1 1006.4,583.7 1001.5,582.3 C996.7,580.9 991.8,574.4 987.0,572.6 C982.1,570.8 974.9,571.8 972.4,571.6" fill="none" stroke="#8080ff" stroke-width="1.1" stroke-linejoin="round" stroke-linecap="round"/>
<path d="M1016.1,577.7 C1014.6,578.6 1010.1,581.9 1007.1,583.3 C1004.1,584.8 1001.1,586.4 998.1,586.6 C995.1,586.8 992.1,584.4 989.1,584.5 C986.1,584.6 983.2,586.3 980.2,587.3 C977.2,588.4 972.7,590.1 971.2,590.6" fill="none" stroke="#8080ff" stroke-width="1.0" stroke-linejoin="round" stroke-linecap="round"/>
<path d="M1036.8,593.5 C1034.6,594.7 1028.1,600.2 1023.7,600.6 C1019.3,601.0 1012.7,596.7 1010.5,595.9" fill="none" stroke="#ff7070" stroke-width="2.0" stroke-linejoin="round" stroke-linecap="round"/>
<path d="M1010.5,595.9 C1008.3,595.1 1001.7,591.5 997.3,591.4 C993.0,591.3 986.4,594.5 984.2,595.1" fill="none" stroke="#ff7070" stroke-width="1.1" stroke-linejoin="round" stroke-linecap="round"/>
<path d="M1036.8,600.5 C1034.5,601.1 1027.7,604.7 1023.1,604.2 C1018.5,603.8 1011.6,598.8 1009.3,597.7" fill="none" stroke="#8080ff" stroke-width="2.0" stroke-linejoin="round" stroke-linecap="round"/>
<path d="M1009.3,597.7 C1007.0,597.3 1000.2,595.1 995.6,595.2 C991.0,595.2 984.1,597.5 981.8,598.0" fill="none" stroke="#8080ff" stroke-width="1.1" stroke-linejoin="round" stroke-linecap="round"/>
<path d="M1034.5,618.7 C1033.1,618.0 1028.9,614.9 1026.1,614.5 C1023.3,614.1 1019.2,615.9 1017.8,616.2" fill="none" stroke="#ff7070" stroke-width="2.0" stroke-linejoin="round" stroke-linecap="round"/>
<path d="M1017.8,616.2 C1016.4,616.2 1012.2,617.2 1009.4,616.4 C1006.6,615.6 1003.8,612.9 1001.0,611.4 C998.2,609.8 995.5,607.7 992.7,607.1 C989.9,606.6 985.7,608.0 984.3,608.1" fill="none" stroke="#ff7070" stroke-width="1.1" stroke-linejoin="round" stroke-linecap="round"/>
<path d="M1017.8,615.1 C1016.3,615.4 1011.9,617.6 1009.0,617.3 C1006.1,617.0 1003.2,614.3 1000.3,613.1 C997.4,611.9 994.5,610.2 991.6,610.2 C988.7,610.2 985.8,612.8 982.8,613.2 C979.9,613.6 977.0,613.5 974.1,612.5 C971.2,611.6 966.8,608.4 965.4,607.5" fill="none" stroke="#ff7070" stroke-width="1.0" stroke-linejoin="round" stroke-linecap="round"/>
<path d="M1034.5,608.5 C1033.0,608.3 1028.7,606.4 1025.7,606.9 C1022.8,607.5 1019.9,611.1 1017.0,612.0 C1014.0,612.8 1009.7,611.8 1008.2,611.8" fill="none" stroke="#8080ff" stroke-width="2.0" stroke-linejoin="round" stroke-linecap="round"/>
<path d="M1008.2,611.8 C1006.7,610.5 1002.3,605.7 999.4,604.2 C996.5,602.8 993.6,603.2 990.7,603.3 C987.7,603.5 984.8,605.2 981.9,605.0 C979.0,604.9 974.6,602.9 973.1,602.5" fill="none" stroke="#8080ff" stroke-width="1.1" stroke-linejoin="round" stroke-linecap="round"/>
<path d="M1008.2,613.5 C1006.8,613.1 1002.6,611.4 999.8,611.1 C997.0,610.8 994.2,611.0 991.4,611.7 C988.6,612.5 985.9,615.0 983.1,615.6 C980.3,616.1 977.5,615.3 974.7,615.0 C971.9,614.7 969.1,613.6 966.3,613.9 C963.5,614.2 960.7,616.2 957.9,616.8 C955.2,617.5 951.0,617.4 949.6,617.6" fill="none" stroke="#8080ff" stroke-width="1.0" stroke-linejoin="round" stroke-linecap="round"/>
<path d="M1036.8,625.2 C1035.3,626.2 1031.1,629.7 1028.2,630.9 C1025.4,632.2 1022.5,633.2 1019.7,632.5 C1016.8,631.8 1012.6,627.9 1011.1,627.0" fill="none" stroke="#ff7070" stroke-width="2.0" stroke-linejoin="round" stroke-linecap="round"/>
<path d="M1011.1,627.0 C1009.7,626.1 1005.4,621.6 1002.6,621.7 C999.8,621.8 996.9,626.6 994.1,627.5 C991.2,628.4 988.4,628.2 985.5,627.2 C982.7,626.2 979.8,622.7 977.0,621.6 C974.1,620.4 969.9,620.5 968.5,620.3" fill="none" stroke="#ff7070" stroke-width="1.1" stroke-linejoin="round" stroke-linecap="round"/>
<path d="M1011.1,629.1 C1009.7,628.8 1005.6,628.1 1002.8,627.4 C1000.0,626.6 997.3,624.6 994.5,624.8 C991.7,624.9 988.9,627.7 986.1,628.3 C983.4,628.8 980.6,628.5 977.8,628.1 C975.0,627.7 972.3,626.3 969.5,625.7 C966.7,625.2 963.9,624.3 961.2,624.8 C958.4,625.4 954.2,628.4 952.8,629.1" fill="none" stroke="#ff7070" stroke-width="1.0" stroke-linejoin="round" stroke-linecap="round"/>
<path d="M1036.8,628.4 C1034.7,629.6 1028.4,634.6 1024.2,635.5 C1020.0,636.4 1013.7,634.0 1011.6,633.7" fill="none" stroke="#8080ff" stroke-width="2.0" stroke-linejoin="round" stroke-linecap="round"/>
<path d="M1011.6,633.7 C1009.5,632.5 1003.2,627.4 999.0,626.4 C994.8,625.4 990.6,626.5 986.4,627.6 C982.3,628.7 978.1,632.6 973.9,633.0 C969.7,633.4 963.4,630.6 961.3,630.2" fill="none" stroke="#8080ff" stroke-width="1.1" stroke-linejoin="round" stroke-linecap="round"/>
<path d="M1011.6,635.4 C1010.3,634.5 1006.2,631.1 1003.6,630.2 C1000.9,629.4 998.2,629.6 995.5,630.2 C992.8,630.7 990.2,633.4 987.5,633.7 C984.8,634.0 982.1,632.5 979.4,632.0 C976.7,631.5 974.1,631.0 971.4,630.6 C968.7,630.2 964.7,629.8 963.3,629.7" fill="none" stroke="#8080ff" stroke-width="1.0" stroke-linejoin="round" stroke-linecap="round"/>
<path d="M1039.0,657.3 C1036.9,655.7 1030.8,649.1 1026.7,647.8 C1022.6,646.5 1016.4,649.2 1014.4,649.4" fill="none" stroke="#ff7070" stroke-width="2.0" stroke-linejoin="round" stroke-linecap="round"/>
<path d="M1014.4,649.4 C1012.3,650.3 1006.2,655.0 1002.1,654.4 C998.0,653.8 993.9,648.2 989.8,645.8 C985.7,643.4 981.6,640.4 977.5,639.9 C973.4,639.4 967.2,642.5 965.2,643.0" fill="none" stroke="#ff7070" stroke-width="1.1" stroke-linejoin="round" stroke-linecap="round"/>
<path d="M1014.4,645.4 C1013.1,646.2 1009.1,648.9 1006.5,650.3 C1003.9,651.7 1001.3,653.1 998.6,653.7 C996.0,654.4 993.4,654.3 990.8,654.2 C988.1,654.2 985.5,652.5 982.9,653.2 C980.3,653.9 976.3,657.4 975.0,658.2" fill="none" stroke="#ff7070" stroke-width="1.0" stroke-linejoin="round" stroke-linecap="round"/>
<path d="M1039.0,662.5 C1037.0,660.6 1031.2,654.0 1027.2,651.2 C1023.3,648.3 1017.5,646.4 1015.5,645.4" fill="none" stroke="#8080ff" stroke-width="2.0" stroke-linejoin="round" stroke-linecap="round"/>
<path d="M1015.5,645.4 C1013.5,646.3 1007.7,649.9 1003.7,650.8 C999.8,651.8 995.9,652.3 992.0,651.0 C988.1,649.7 984.1,644.4 980.2,642.9 C976.3,641.4 970.4,642.1 968.5,641.9" fill="none" stroke="#8080ff" stroke-width="1.1" stroke-linejoin="round" stroke-linecap="round"/>
<path d="M1041.3,672.1 C1039.2,670.3 1032.9,663.4 1028.7,661.7 C1024.5,660.0 1018.2,661.8 1016.1,661.9" fill="none" stroke="#ff7070" stroke-width="2.0" stroke-linejoin="round" stroke-linecap="round"/>
<path d="M1016.1,661.9 C1014.0,663.1 1007.8,668.7 1003.6,669.1 C999.4,669.5 995.2,665.8 991.0,664.0 C986.8,662.2 982.6,659.1 978.4,658.2 C974.2,657.2 967.9,658.4 965.8,658.4" fill="none" stroke="#ff7070" stroke-width="1.1" stroke-linejoin="round" stroke-linecap="round"/>
<path d="M1041.3,668.6 C1039.7,669.3 1035.0,671.6 1031.8,672.7 C1028.7,673.8 1025.5,676.1 1022.4,675.2 C1019.2,674.3 1014.5,668.7 1013.0,667.4" fill="none" stroke="#8080ff" stroke-width="2.0" stroke-linejoin="round" stroke-linecap="round"/>
<path d="M1013.0,667.4 C1011.4,666.7 1006.7,663.4 1003.5,663.1 C1000.4,662.7 997.2,664.8 994.1,665.3 C990.9,665.9 987.8,667.2 984.6,666.4 C981.5,665.7 976.8,661.8 975.2,660.9" fill="none" stroke="#8080ff" stroke-width="1.1" stroke-linejoin="round" stroke-linecap="round"/>
<path d="M1043.2,693.6 C1041.8,692.6 1037.6,688.4 1034.8,687.7 C1032.0,687.0 1029.3,689.0 1026.5,689.5 C1023.7,690.0 1019.5,690.5 1018.1,690.7" fill="none" stroke="#ff7070" stroke-width="2.0" stroke-linejoin="round" stroke-linecap="round"/>
<path d="M1018.1,690.7 C1016.7,689.9 1012.6,687.2 1009.8,685.8 C1007.0,684.5 1004.2,683.0 1001.4,682.7 C998.6,682.5 995.8,684.3 993.1,684.4 C990.3,684.6 986.1,683.8 984.7,683.7" fill="none" stroke="#ff7070" stroke-width="1.1" stroke-linejoin="round" stroke-linecap="round"/>
<path d="M1018.1,693.8 C1016.9,693.4 1013.2,691.9 1010.8,691.8 C1008.4,691.7 1005.9,692.4 1003.5,693.2 C1001.1,693.9 998.6,695.3 996.2,696.4 C993.8,697.5 990.1,699.2 988.9,699.8" fill="none" stroke="#ff7070" stroke-width="1.0" stroke-linejoin="round" stroke-linecap="round"/>
<path d="M1043.2,692.5 C1041.5,690.6 1036.6,683.2 1033.3,681.2 C1030.0,679.3 1026.7,680.2 1023.4,681.0 C1020.0,681.9 1015.1,685.5 1013.4,686.4" fill="none" stroke="#8080ff" stroke-width="2.0" stroke-linejoin="round" stroke-linecap="round"/>
<path d="M1013.4,686.4 C1011.8,685.3 1006.8,681.9 1003.5,679.9 C1000.2,677.8 996.9,675.1 993.6,674.2 C990.3,673.2 987.0,674.0 983.7,674.1 C980.4,674.3 977.1,676.0 973.8,675.2 C970.4,674.5 965.5,670.6 963.8,669.7" fill="none" stroke="#8080ff" stroke-width="1.1" stroke-linejoin="round" stroke-linecap="round"/>
<path d="M1053.0,717.8 C1051.5,717.2 1046.8,715.6 1044.0,713.9 C1041.2,712.2 1038.3,706.5 1036.0,707.7 C1033.7,708.8 1032.3,720.3 1030.0,720.8 C1027.7,721.3 1025.3,712.2 1022.0,710.9 C1018.7,709.6 1012.0,712.6 1010.0,713.0" fill="none" stroke="#ff7070" stroke-width="1.9" stroke-linejoin="round" stroke-linecap="round"/>
<path d="M1010.0,713.0 C1007.9,712.7 1001.7,711.3 997.4,711.2 C993.2,711.1 988.8,712.8 984.4,712.4 C980.0,712.0 974.4,709.5 971.1,708.9 C967.8,708.3 965.8,708.8 964.7,708.8" fill="none" stroke="#ff7070" stroke-width="1.2" stroke-linejoin="round" stroke-linecap="round"/>
<path d="M1053.0,711.5 C1051.5,711.1 1046.8,710.5 1044.0,709.2 C1041.2,707.9 1038.3,703.3 1036.0,703.7 C1033.7,704.1 1032.3,711.3 1030.0,711.4 C1027.7,711.5 1025.3,704.8 1022.0,704.4 C1018.7,703.9 1012.0,708.1 1010.0,708.8" fill="none" stroke="#8080ff" stroke-width="2.3" stroke-linejoin="round" stroke-linecap="round"/>
<path d="M1010.0,708.8 C1007.8,708.2 1000.6,706.0 996.7,705.1 C992.9,704.3 990.6,704.2 986.7,703.6 C982.8,702.9 977.4,702.0 973.3,701.2 C969.1,700.4 963.7,699.4 961.8,699.0" fill="none" stroke="#8080ff" stroke-width="1.2" stroke-linejoin="round" stroke-linecap="round"/>
<path d="M1053.0,748.2 C1051.5,748.0 1046.8,748.3 1044.0,747.2 C1041.2,746.0 1038.3,741.8 1036.0,741.3 C1033.7,740.8 1032.3,744.2 1030.0,744.3 C1027.7,744.4 1025.3,741.9 1022.0,741.9 C1018.7,742.0 1012.0,744.3 1010.0,744.8" fill="none" stroke="#ff7070" stroke-width="1.9" stroke-linejoin="round" stroke-linecap="round"/>
<path d="M1010.0,744.8 C1008.0,744.2 1002.5,741.8 998.0,741.3 C993.5,740.8 987.6,742.3 983.1,741.8 C978.6,741.4 973.9,739.1 971.0,738.6 C968.1,738.2 966.6,739.1 965.7,739.2" fill="none" stroke="#ff7070" stroke-width="1.2" stroke-linejoin="round" stroke-linecap="round"/>
<path d="M1053.0,747.6 C1051.5,747.4 1046.8,749.0 1044.0,746.8 C1041.2,744.6 1038.3,734.4 1036.0,734.5 C1033.7,734.6 1032.3,746.4 1030.0,747.3 C1027.7,748.2 1025.3,740.2 1022.0,739.7 C1018.7,739.2 1012.0,743.6 1010.0,744.4" fill="none" stroke="#8080ff" stroke-width="2.3" stroke-linejoin="round" stroke-linecap="round"/>
<path d="M1010.0,744.4 C1008.2,743.5 1003.2,740.1 999.0,739.0 C994.7,738.0 989.2,738.4 984.5,738.1 C979.7,737.7 973.3,737.4 970.4,737.0 C967.5,736.6 967.5,736.0 966.9,735.8" fill="none" stroke="#8080ff" stroke-width="1.2" stroke-linejoin="round" stroke-linecap="round"/>
<path d="M1053.0,764.9 C1051.5,764.6 1046.8,764.6 1044.0,763.2 C1041.2,761.8 1038.3,756.7 1036.0,756.6 C1033.7,756.4 1032.3,762.3 1030.0,762.3 C1027.7,762.3 1025.3,757.0 1022.0,756.6 C1018.7,756.1 1012.0,759.2 1010.0,759.7" fill="none" stroke="#ff7070" stroke-width="1.9" stroke-linejoin="round" stroke-linecap="round"/>
<path d="M1010.0,759.7 C1008.2,759.2 1003.2,757.0 999.3,756.8 C995.4,756.7 990.5,758.7 986.7,758.9 C982.8,759.2 979.5,758.3 976.1,758.3 C972.7,758.4 967.9,759.1 966.2,759.2" fill="none" stroke="#ff7070" stroke-width="1.2" stroke-linejoin="round" stroke-linecap="round"/>
<path d="M1053.0,759.7 C1051.5,759.6 1046.8,760.4 1044.0,759.3 C1041.2,758.3 1038.3,753.2 1036.0,753.2 C1033.7,753.3 1032.3,759.7 1030.0,759.7 C1027.7,759.7 1025.3,753.7 1022.0,753.2 C1018.7,752.7 1012.0,756.0 1010.0,756.6" fill="none" stroke="#8080ff" stroke-width="2.3" stroke-linejoin="round" stroke-linecap="round"/>
<path d="M1010.0,756.6 C1007.8,755.8 1001.3,752.8 996.8,752.2 C992.4,751.5 987.9,752.6 983.3,752.8 C978.6,753.0 971.6,753.2 968.8,753.1 C966.0,753.1 967.1,752.7 966.7,752.6" fill="none" stroke="#8080ff" stroke-width="1.2" stroke-linejoin="round" stroke-linecap="round"/>
<path d="M1053.0,782.4 C1051.5,781.9 1046.8,781.0 1044.0,779.5 C1041.2,778.1 1038.3,772.7 1036.0,773.5 C1033.7,774.2 1032.3,783.8 1030.0,784.0 C1027.7,784.3 1025.3,775.9 1022.0,774.9 C1018.7,773.9 1012.0,777.4 1010.0,778.0" fill="none" stroke="#ff7070" stroke-width="1.9" stroke-linejoin="round" stroke-linecap="round"/>
<path d="M1010.0,778.0 C1008.1,778.2 1003.1,779.6 998.8,779.3 C994.5,779.0 988.8,776.4 984.3,776.1 C979.7,775.7 975.6,776.9 971.5,777.1 C967.3,777.3 961.4,777.4 959.3,777.5" fill="none" stroke="#ff7070" stroke-width="1.2" stroke-linejoin="round" stroke-linecap="round"/>
<path d="M1053.0,779.9 C1051.5,779.5 1046.8,778.4 1044.0,777.2 C1041.2,776.1 1038.3,772.8 1036.0,772.8 C1033.7,772.8 1032.3,776.9 1030.0,777.0 C1027.7,777.2 1025.3,773.9 1022.0,773.6 C1018.7,773.3 1012.0,774.9 1010.0,775.2" fill="none" stroke="#8080ff" stroke-width="2.3" stroke-linejoin="round" stroke-linecap="round"/>
<path d="M1010.0,775.2 C1008.1,775.0 1002.6,774.1 998.8,773.8 C994.9,773.5 990.7,774.0 986.9,773.3 C983.1,772.7 979.2,770.6 976.0,769.8 C972.8,769.1 969.2,768.9 967.9,768.7" fill="none" stroke="#8080ff" stroke-width="1.2" stroke-linejoin="round" stroke-linecap="round"/>
<path d="M1053.0,804.0 C1051.5,803.4 1046.8,802.9 1044.0,800.8 C1041.2,798.8 1038.3,791.9 1036.0,791.8 C1033.7,791.7 1032.3,799.9 1030.0,800.1 C1027.7,800.4 1025.3,793.8 1022.0,793.4 C1018.7,792.9 1012.0,796.6 1010.0,797.2" fill="none" stroke="#ff7070" stroke-width="1.9" stroke-linejoin="round" stroke-linecap="round"/>
<path d="M1010.0,797.2 C1007.7,797.1 1000.5,797.0 996.0,796.3 C991.4,795.6 986.7,793.3 982.7,793.1 C978.7,792.9 975.5,794.8 972.1,795.1 C968.6,795.4 963.5,795.0 961.8,795.0" fill="none" stroke="#ff7070" stroke-width="1.2" stroke-linejoin="round" stroke-linecap="round"/>
<path d="M1053.0,801.5 C1051.5,801.3 1046.8,801.5 1044.0,800.7 C1041.2,799.9 1038.3,796.8 1036.0,796.7 C1033.7,796.7 1032.3,800.4 1030.0,800.5 C1027.7,800.6 1025.3,797.4 1022.0,797.4 C1018.7,797.4 1012.0,800.1 1010.0,800.6" fill="none" stroke="#8080ff" stroke-width="2.3" stroke-linejoin="round" stroke-linecap="round"/>
<path d="M1010.0,800.6 C1007.5,800.4 999.9,799.7 995.0,799.1 C990.2,798.4 985.8,797.2 980.9,796.7 C976.1,796.3 968.3,796.2 966.0,796.2 C963.8,796.2 967.3,796.7 967.6,796.9" fill="none" stroke="#8080ff" stroke-width="1.2" stroke-linejoin="round" stroke-linecap="round"/>
<path d="M1053.0,814.0 C1051.5,813.7 1046.8,813.6 1044.0,812.4 C1041.2,811.2 1038.3,806.5 1036.0,806.6 C1033.7,806.7 1032.3,812.8 1030.0,812.9 C1027.7,813.1 1025.3,807.7 1022.0,807.3 C1018.7,806.9 1012.0,810.2 1010.0,810.8" fill="none" stroke="#ff7070" stroke-width="1.9" stroke-linejoin="round" stroke-linecap="round"/>
<path d="M1010.0,810.8 C1007.7,810.3 1000.4,808.1 995.9,808.0 C991.5,807.9 987.3,810.0 983.4,810.0 C979.5,810.1 975.7,808.7 972.4,808.1 C969.1,807.5 965.0,806.7 963.6,806.4" fill="none" stroke="#ff7070" stroke-width="1.2" stroke-linejoin="round" stroke-linecap="round"/>
<path d="M1053.0,818.9 C1051.5,818.5 1046.8,817.9 1044.0,816.9 C1041.2,815.9 1038.3,813.1 1036.0,813.0 C1033.7,812.9 1032.3,816.1 1030.0,816.2 C1027.7,816.3 1025.3,814.0 1022.0,813.9 C1018.7,813.8 1012.0,815.1 1010.0,815.4" fill="none" stroke="#8080ff" stroke-width="2.3" stroke-linejoin="round" stroke-linecap="round"/>
<path d="M1010.0,815.4 C1007.7,815.0 1000.7,813.9 996.0,813.0 C991.4,812.0 986.9,809.9 982.2,809.8 C977.5,809.6 971.1,811.8 967.9,812.1 C964.7,812.3 963.9,811.3 963.1,811.1" fill="none" stroke="#8080ff" stroke-width="1.2" stroke-linejoin="round" stroke-linecap="round"/>
<path d="M1053.0,837.7 C1051.5,836.9 1046.8,835.1 1044.0,832.9 C1041.2,830.7 1038.3,824.1 1036.0,824.8 C1033.7,825.4 1032.3,836.4 1030.0,836.7 C1027.7,837.1 1025.3,827.4 1022.0,826.7 C1018.7,826.0 1012.0,831.7 1010.0,832.7" fill="none" stroke="#ff7070" stroke-width="1.9" stroke-linejoin="round" stroke-linecap="round"/>
<path d="M1010.0,832.7 C1007.9,832.0 1001.6,829.3 997.1,828.4 C992.7,827.6 987.4,827.6 983.3,827.6 C979.2,827.6 976.4,828.3 972.4,828.5 C968.4,828.7 961.6,828.8 959.4,828.8" fill="none" stroke="#ff7070" stroke-width="1.2" stroke-linejoin="round" stroke-linecap="round"/>
<path d="M1053.0,837.5 C1051.5,837.6 1046.8,839.8 1044.0,837.8 C1041.2,835.8 1038.3,825.1 1036.0,825.6 C1033.7,826.1 1032.3,840.3 1030.0,840.6 C1027.7,840.9 1025.3,828.3 1022.0,827.4 C1018.7,826.4 1012.0,833.6 1010.0,834.9" fill="none" stroke="#8080ff" stroke-width="2.3" stroke-linejoin="round" stroke-linecap="round"/>
<path d="M1010.0,834.9 C1007.7,834.2 1000.5,831.4 996.3,830.8 C992.1,830.1 988.7,831.2 984.8,831.0 C980.9,830.9 977.0,830.1 972.7,829.7 C968.5,829.3 961.6,828.9 959.4,828.7" fill="none" stroke="#8080ff" stroke-width="1.2" stroke-linejoin="round" stroke-linecap="round"/>
<path d="M1053.0,855.5 C1051.5,855.3 1046.8,854.9 1044.0,854.2 C1041.2,853.5 1038.3,851.4 1036.0,851.4 C1033.7,851.3 1032.3,853.9 1030.0,853.9 C1027.7,853.9 1025.3,851.6 1022.0,851.6 C1018.7,851.6 1012.0,853.4 1010.0,853.8" fill="none" stroke="#ff7070" stroke-width="1.9" stroke-linejoin="round" stroke-linecap="round"/>
<path d="M1010.0,853.8 C1007.8,853.2 1001.4,850.9 997.1,850.2 C992.7,849.5 987.9,849.3 983.9,849.5 C980.0,849.8 977.1,851.7 973.3,851.6 C969.5,851.6 963.2,849.6 961.2,849.2" fill="none" stroke="#ff7070" stroke-width="1.2" stroke-linejoin="round" stroke-linecap="round"/>
<path d="M1053.0,850.8 C1051.5,850.3 1046.8,849.0 1044.0,848.2 C1041.2,847.3 1038.3,845.5 1036.0,845.6 C1033.7,845.7 1032.3,848.7 1030.0,848.8 C1027.7,848.8 1025.3,845.6 1022.0,845.9 C1018.7,846.1 1012.0,849.6 1010.0,850.3" fill="none" stroke="#8080ff" stroke-width="2.3" stroke-linejoin="round" stroke-linecap="round"/>
<path d="M1010.0,850.3 C1008.3,850.1 1003.8,849.1 999.7,848.9 C995.6,848.7 989.8,848.9 985.3,848.9 C980.7,849.0 976.0,849.2 972.4,849.1 C968.8,848.9 965.1,848.2 963.7,848.0" fill="none" stroke="#8080ff" stroke-width="1.2" stroke-linejoin="round" stroke-linecap="round"/>
<path d="M1053.0,870.3 C1051.5,869.7 1046.8,867.8 1044.0,866.7 C1041.2,865.5 1038.3,863.6 1036.0,863.4 C1033.7,863.2 1032.3,865.7 1030.0,865.6 C1027.7,865.6 1025.3,863.4 1022.0,863.1 C1018.7,862.8 1012.0,863.6 1010.0,863.7" fill="none" stroke="#ff7070" stroke-width="1.9" stroke-linejoin="round" stroke-linecap="round"/>
<path d="M1010.0,863.7 C1007.9,864.2 1001.2,866.7 997.2,866.8 C993.3,866.9 990.5,865.0 986.5,864.5 C982.6,864.0 977.1,864.1 973.5,864.0 C969.9,864.0 966.2,864.3 964.8,864.3" fill="none" stroke="#ff7070" stroke-width="1.2" stroke-linejoin="round" stroke-linecap="round"/>
<path d="M1053.0,866.5 C1051.5,865.7 1046.8,862.9 1044.0,861.3 C1041.2,859.8 1038.3,856.6 1036.0,857.3 C1033.7,858.1 1032.3,865.7 1030.0,865.8 C1027.7,865.9 1025.3,858.7 1022.0,858.1 C1018.7,857.4 1012.0,861.3 1010.0,861.9" fill="none" stroke="#8080ff" stroke-width="2.3" stroke-linejoin="round" stroke-linecap="round"/>
<path d="M1010.0,861.9 C1007.9,861.6 1001.5,859.8 997.3,859.8 C993.2,859.7 988.9,861.3 985.1,861.7 C981.4,862.1 978.8,861.9 974.7,862.2 C970.6,862.4 962.9,863.0 960.6,863.1" fill="none" stroke="#8080ff" stroke-width="1.2" stroke-linejoin="round" stroke-linecap="round"/>
<path d="M1053.0,889.7 C1051.5,889.6 1046.8,889.9 1044.0,888.8 C1041.2,887.7 1038.3,883.4 1036.0,883.1 C1033.7,882.8 1032.3,887.1 1030.0,887.2 C1027.7,887.3 1025.3,883.9 1022.0,883.6 C1018.7,883.2 1012.0,884.9 1010.0,885.1" fill="none" stroke="#ff7070" stroke-width="1.9" stroke-linejoin="round" stroke-linecap="round"/>
<path d="M1010.0,885.1 C1007.9,885.0 1001.7,884.4 997.2,884.2 C992.8,883.9 987.5,883.8 983.3,883.8 C979.1,883.8 974.6,884.5 972.0,884.2 C969.4,883.9 968.4,882.4 967.7,882.0" fill="none" stroke="#ff7070" stroke-width="1.2" stroke-linejoin="round" stroke-linecap="round"/>
<path d="M1053.0,891.3 C1051.5,891.4 1046.8,893.0 1044.0,892.0 C1041.2,891.0 1038.3,885.8 1036.0,885.3 C1033.7,884.7 1032.3,888.4 1030.0,888.6 C1027.7,888.9 1025.3,886.4 1022.0,886.6 C1018.7,886.9 1012.0,889.5 1010.0,890.1" fill="none" stroke="#8080ff" stroke-width="2.3" stroke-linejoin="round" stroke-linecap="round"/>
<path d="M1010.0,890.1 C1008.2,889.5 1003.0,887.1 999.0,886.3 C995.0,885.4 990.6,884.9 986.0,885.0 C981.5,885.2 974.8,886.7 971.8,887.1 C968.7,887.5 968.5,887.4 967.8,887.4" fill="none" stroke="#8080ff" stroke-width="1.2" stroke-linejoin="round" stroke-linecap="round"/>
<path d="M1097.0,465.0 C1097.3,466.5 1096.8,469.8 1099.0,474.0 C1101.2,478.2 1107.3,486.3 1110.0,490.0 C1112.7,493.7 1115.3,493.8 1115.0,496.0 C1114.7,498.2 1112.2,500.3 1108.0,503.0 C1103.8,505.7 1091.2,508.7 1090.0,512.0 C1088.8,515.3 1100.5,520.3 1101.0,523.0 C1101.5,525.7 1097.3,526.7 1093.0,528.0 C1088.7,529.3 1078.0,530.5 1075.0,531.0" fill="none" stroke="#ff7070" stroke-width="3.4" stroke-linejoin="round" stroke-linecap="round"/>
<path d="M1075.0,531.0 C1076.2,533.3 1080.5,541.2 1082.0,545.0 C1083.5,548.8 1085.5,551.5 1084.0,554.0 C1082.5,556.5 1076.0,558.2 1073.0,560.0 C1070.0,561.8 1066.8,562.3 1066.0,565.0 C1065.2,567.7 1069.5,573.2 1068.0,576.0 C1066.5,578.8 1060.7,578.3 1057.0,582.0 C1053.3,585.7 1046.0,593.5 1046.0,598.0 C1046.0,602.5 1055.2,607.2 1057.0,609.0" fill="none" stroke="#ff7070" stroke-width="4.8" stroke-linejoin="round" stroke-linecap="round"/>
<path d="M1057.0,609.0 C1057.5,610.5 1061.3,615.2 1060.0,618.0 C1058.7,620.8 1050.5,623.2 1049.0,626.0 C1047.5,628.8 1047.3,632.7 1051.0,635.0 C1054.7,637.3 1067.3,637.3 1071.0,640.0 C1074.7,642.7 1074.2,647.7 1073.0,651.0 C1071.8,654.3 1064.8,656.7 1064.0,660.0 C1063.2,663.3 1066.2,667.7 1068.0,671.0 C1069.8,674.3 1074.2,676.8 1075.0,680.0 C1075.8,683.2 1073.3,688.3 1073.0,690.0" fill="none" stroke="#ff7070" stroke-width="6.4" stroke-linejoin="round" stroke-linecap="round"/>
<path d="M1073.0,690.0 C1072.5,693.3 1069.7,703.3 1070.0,710.0 C1070.3,716.7 1072.5,725.0 1075.0,730.0 C1077.5,735.0 1078.3,737.1 1085.0,740.0 C1091.7,742.9 1105.8,746.7 1115.0,747.5 C1124.2,748.3 1131.7,746.2 1140.0,745.0 C1148.3,743.8 1155.4,743.8 1165.0,740.0 C1174.6,736.2 1192.1,725.4 1197.5,722.5" fill="none" stroke="#ff7070" stroke-width="6.6" stroke-linejoin="round" stroke-linecap="round"/>
<path d="M1060.0,772.0 C1064.2,773.7 1075.8,779.5 1085.0,782.0 C1094.2,784.5 1103.8,787.0 1115.0,787.0 C1126.2,787.0 1140.0,785.2 1152.5,782.0 C1165.0,778.8 1178.6,773.8 1190.0,768.0 C1201.4,762.2 1215.8,750.5 1221.0,747.0" fill="none" stroke="#ff7070" stroke-width="6" stroke-linejoin="round" stroke-linecap="round"/>
<path d="M1063.0,765.0 C1062.1,767.1 1058.0,770.0 1057.5,777.5 C1057.0,785.0 1060.0,797.2 1060.0,810.0 C1060.0,822.8 1058.3,842.8 1057.5,854.5 C1056.7,866.2 1056.2,872.4 1055.0,880.0 C1053.8,887.6 1050.8,896.7 1050.0,900.0" fill="none" stroke="#ff7070" stroke-width="2.6" stroke-linejoin="round" stroke-linecap="round"/>
<path d="M1103.8,469.7 C1105.6,473.4 1112.6,486.6 1114.8,491.8 C1117.0,497.0 1118.1,498.2 1117.0,500.6 C1115.9,503.0 1111.7,505.3 1108.0,506.0 C1104.3,506.7 1096.1,503.7 1095.0,505.0 C1093.9,506.3 1099.7,511.2 1101.5,514.0 C1103.3,516.8 1106.8,518.3 1106.0,521.6 C1105.2,524.9 1101.8,531.1 1097.0,533.8 C1092.2,536.5 1080.3,537.3 1077.0,538.0" fill="none" stroke="#8080ff" stroke-width="3.6" stroke-linejoin="round" stroke-linecap="round"/>
<path d="M1077.0,538.0 C1078.0,540.6 1081.5,548.8 1082.8,553.6 C1084.1,558.4 1086.7,564.1 1085.0,567.0 C1083.3,569.9 1078.5,568.5 1072.8,571.0 C1067.1,573.5 1055.0,578.3 1050.8,582.0 C1046.6,585.7 1048.0,591.2 1047.5,593.0" fill="none" stroke="#8080ff" stroke-width="5.2" stroke-linejoin="round" stroke-linecap="round"/>
<path d="M1047.5,593.0 C1048.9,594.5 1055.5,598.7 1056.0,602.0 C1056.5,605.3 1050.4,609.3 1050.8,613.0 C1051.2,616.7 1057.8,619.2 1058.5,624.0 C1059.2,628.8 1055.6,639.0 1055.0,642.0" fill="none" stroke="#8080ff" stroke-width="6.8" stroke-linejoin="round" stroke-linecap="round"/>
<path d="M1055.0,642.0 C1056.8,643.8 1063.4,649.7 1066.0,653.0 C1068.6,656.3 1071.5,657.8 1070.6,661.8 C1069.7,665.8 1061.5,672.3 1060.7,677.0 C1059.9,681.7 1065.1,687.8 1066.0,690.0" fill="none" stroke="#8080ff" stroke-width="8.4" stroke-linejoin="round" stroke-linecap="round"/>
<path d="M1066.0,690.0 C1067.1,690.4 1071.8,690.0 1072.5,692.5 C1073.2,695.0 1071.7,700.4 1070.0,705.0 C1068.3,709.6 1063.3,715.0 1062.5,720.0 C1061.7,725.0 1062.5,730.8 1065.0,735.0 C1067.5,739.2 1072.1,745.0 1077.5,745.0 C1082.9,745.0 1089.6,734.2 1097.5,735.0 C1105.4,735.8 1117.9,748.3 1125.0,750.0 C1132.1,751.7 1133.8,747.9 1140.0,745.0 C1146.2,742.1 1152.5,733.5 1162.5,732.5 C1172.5,731.5 1193.8,737.7 1200.0,738.8" fill="none" stroke="#8080ff" stroke-width="8.4" stroke-linejoin="round" stroke-linecap="round"/>
<path d="M1047.5,902.5 C1047.9,898.3 1049.6,886.2 1050.0,877.5 C1050.4,868.8 1047.9,856.2 1050.0,850.0 C1052.1,843.8 1060.0,842.5 1062.5,840.0 C1065.0,837.5 1065.4,837.5 1065.0,835.0 C1064.6,832.5 1062.1,829.2 1060.0,825.0 C1057.9,820.8 1052.9,814.2 1052.5,810.0 C1052.1,805.8 1056.2,804.2 1057.5,800.0 C1058.8,795.8 1059.8,788.8 1060.0,785.0 C1060.2,781.2 1059.0,778.8 1058.8,777.5" fill="none" stroke="#8080ff" stroke-width="3.6" stroke-linejoin="round" stroke-linecap="round"/>
<path d="M1058.8,777.5 C1058.5,775.0 1056.0,766.1 1057.5,762.5 C1059.0,758.9 1064.2,755.2 1067.5,756.0 C1070.8,756.8 1072.9,762.7 1077.5,767.5 C1082.1,772.3 1088.8,783.3 1095.0,785.0 C1101.2,786.7 1109.2,780.0 1115.0,777.5 C1120.8,775.0 1123.8,770.0 1130.0,770.0 C1136.2,770.0 1145.4,778.3 1152.5,777.5 C1159.6,776.7 1166.2,768.3 1172.5,765.0 C1178.8,761.7 1184.2,757.9 1190.0,757.5 C1195.8,757.1 1201.7,764.1 1207.5,762.5 C1213.3,760.9 1222.1,750.4 1225.0,748.0" fill="none" stroke="#8080ff" stroke-width="6.6" stroke-linejoin="round" stroke-linecap="round"/>
<path d="M1088.0,433.7 C1091.1,434.1 1101.0,432.4 1106.5,435.8 C1112.0,439.2 1115.3,452.3 1120.7,454.0 C1126.1,455.7 1132.2,443.9 1139.0,446.0 C1145.8,448.1 1155.0,463.6 1161.5,466.3 C1168.0,469.0 1174.8,466.8 1177.8,462.0 C1180.8,457.2 1176.1,441.5 1179.8,437.8 C1183.5,434.1 1192.9,440.5 1200.0,439.8 C1207.1,439.1 1216.1,436.4 1222.6,433.7 C1229.1,431.0 1232.2,425.5 1239.0,423.5 C1245.8,421.5 1256.0,422.7 1263.4,421.5 C1270.9,420.3 1276.9,417.4 1283.7,416.4 C1290.5,415.4 1297.2,417.0 1304.0,415.4 C1310.8,413.8 1318.0,408.0 1324.5,407.0 C1331.0,406.0 1338.4,406.9 1342.8,409.3 C1347.2,411.7 1352.3,416.1 1351.0,421.5 C1349.7,426.9 1337.1,435.5 1334.7,441.9 C1332.3,448.3 1333.3,455.6 1336.7,460.0 C1340.1,464.4 1352.0,466.7 1355.0,468.0" fill="none" stroke="#8080ff" stroke-width="3" stroke-linejoin="round" stroke-linecap="round"/>
<path d="M1090.0,440.0 C1092.0,441.0 1098.3,443.3 1102.0,446.0 C1105.7,448.7 1108.7,453.3 1112.0,456.0 C1115.3,458.7 1119.0,464.7 1122.0,462.0 C1125.0,459.3 1127.0,440.7 1130.0,440.0 C1133.0,439.3 1137.0,452.3 1140.0,458.0 C1143.0,463.7 1144.2,470.7 1148.0,474.0 C1151.8,477.3 1159.3,481.2 1163.0,478.0 C1166.7,474.8 1166.7,460.3 1170.0,455.0 C1173.3,449.7 1178.0,447.3 1183.0,446.0 C1188.0,444.7 1193.8,448.0 1200.0,447.0 C1206.2,446.0 1214.7,443.7 1220.0,440.0 C1225.3,436.3 1227.0,426.7 1232.0,425.0 C1237.0,423.3 1243.7,429.7 1250.0,430.0 C1256.3,430.3 1263.3,428.3 1270.0,427.0 C1276.7,425.7 1283.3,423.2 1290.0,422.0 C1296.7,420.8 1303.3,421.7 1310.0,420.0 C1316.7,418.3 1324.2,414.5 1330.0,412.0 C1335.8,409.5 1340.5,407.7 1345.0,405.0 C1349.5,402.3 1355.0,397.5 1357.0,396.0" fill="none" stroke="#ff7070" stroke-width="2.6" stroke-linejoin="round" stroke-linecap="round"/>
<path d="M1137.0,448.0 C1137.3,450.3 1135.6,456.9 1139.0,462.0 C1142.4,467.1 1151.3,474.4 1157.4,478.5 C1163.5,482.6 1171.7,483.3 1175.8,486.7 C1179.9,490.1 1177.6,496.6 1182.0,499.0 C1186.4,501.4 1198.7,500.7 1202.0,501.0" fill="none" stroke="#ff7070" stroke-width="2.8" stroke-linejoin="round" stroke-linecap="round"/>
<path d="M1202.0,501.0 C1205.4,503.0 1215.8,509.0 1222.6,513.0 C1229.4,517.0 1236.3,522.2 1243.0,525.0 C1249.7,527.8 1256.2,529.8 1263.0,529.5 C1269.8,529.2 1276.9,526.4 1283.7,523.0 C1290.5,519.6 1297.2,513.3 1304.0,509.0 C1310.8,504.7 1317.7,501.4 1324.5,497.0 C1331.3,492.6 1340.2,487.7 1345.0,482.6 C1349.8,477.5 1349.7,470.1 1353.0,466.3 C1356.3,462.5 1360.2,460.1 1365.0,460.0 C1369.8,459.9 1374.7,463.6 1381.5,466.0 C1388.3,468.4 1398.6,473.8 1406.0,474.5 C1413.4,475.2 1418.3,472.1 1426.0,470.0 C1433.7,467.9 1444.7,465.0 1452.0,462.0 C1459.3,459.0 1467.0,453.7 1470.0,452.0" fill="none" stroke="#ff7070" stroke-width="4.5" stroke-linejoin="round" stroke-linecap="round"/>
<path d="M1141.0,446.0 C1144.4,449.3 1154.0,459.9 1161.5,466.0 C1169.0,472.1 1179.2,476.4 1186.0,482.6 C1192.8,488.8 1199.3,499.6 1202.0,503.0" fill="none" stroke="#8080ff" stroke-width="3" stroke-linejoin="round" stroke-linecap="round"/>
<path d="M1202.0,503.0 C1205.4,504.7 1215.8,509.7 1222.6,513.0 C1229.4,516.3 1236.3,521.0 1243.0,523.0 C1249.7,525.0 1256.9,523.8 1263.0,525.0 C1269.1,526.2 1274.2,531.5 1279.7,530.5 C1285.2,529.5 1291.0,523.6 1296.0,519.0 C1301.0,514.4 1305.2,508.4 1310.0,503.0 C1314.8,497.6 1319.4,491.4 1324.5,486.7 C1329.6,481.9 1335.7,477.3 1340.8,474.5 C1345.9,471.7 1347.5,471.4 1355.0,470.0 C1362.5,468.6 1373.8,467.7 1385.6,466.0 C1397.4,464.3 1414.9,461.8 1426.0,460.0 C1437.1,458.2 1444.7,456.8 1452.0,455.0 C1459.3,453.2 1467.0,450.0 1470.0,449.0" fill="none" stroke="#8080ff" stroke-width="5.4" stroke-linejoin="round" stroke-linecap="round"/>
<path d="M1300.0,417.0 C1300.8,415.0 1302.5,408.7 1305.0,405.0 C1307.5,401.3 1312.8,398.3 1315.0,395.0 C1317.2,391.7 1317.5,386.7 1318.0,385.0" fill="none" stroke="#8080ff" stroke-width="1.2" stroke-linejoin="round" stroke-linecap="round"/>
<path d="M1277.0,415.0 C1277.5,413.3 1280.8,408.3 1280.0,405.0 C1279.2,401.7 1273.3,396.7 1272.0,395.0" fill="none" stroke="#8080ff" stroke-width="1.0" stroke-linejoin="round" stroke-linecap="round"/>
<path d="M1325.0,405.0 C1326.7,403.3 1330.8,397.2 1335.0,395.0 C1339.2,392.8 1347.5,392.5 1350.0,392.0" fill="none" stroke="#ff7070" stroke-width="1.3" stroke-linejoin="round" stroke-linecap="round"/>
<path d="M1250.0,430.0 C1249.2,428.0 1245.3,421.3 1245.0,418.0 C1244.7,414.7 1247.5,411.3 1248.0,410.0" fill="none" stroke="#ff7070" stroke-width="1.2" stroke-linejoin="round" stroke-linecap="round"/>
<path d="M1227.0,517.0 C1226.2,515.0 1221.5,508.7 1222.0,505.0 C1222.5,501.3 1226.2,497.8 1230.0,495.0 C1233.8,492.2 1242.5,489.2 1245.0,488.0" fill="none" stroke="#8080ff" stroke-width="1.2" stroke-linejoin="round" stroke-linecap="round"/>
<path d="M1252.0,522.0 C1251.7,519.7 1249.5,512.0 1250.0,508.0 C1250.5,504.0 1254.2,499.7 1255.0,498.0" fill="none" stroke="#8080ff" stroke-width="1.0" stroke-linejoin="round" stroke-linecap="round"/>
<path d="M1280.0,530.0 C1279.7,527.5 1278.8,519.2 1278.0,515.0 C1277.2,510.8 1275.5,506.7 1275.0,505.0" fill="none" stroke="#8080ff" stroke-width="1.0" stroke-linejoin="round" stroke-linecap="round"/>
<path d="M1235.0,525.0 C1235.8,522.5 1237.8,514.2 1240.0,510.0 C1242.2,505.8 1246.7,501.7 1248.0,500.0" fill="none" stroke="#ff7070" stroke-width="1.0" stroke-linejoin="round" stroke-linecap="round"/>
<path d="M1305.0,512.0 C1304.2,509.7 1302.5,502.0 1300.0,498.0 C1297.5,494.0 1292.5,491.3 1290.0,488.0 C1287.5,484.7 1285.8,479.7 1285.0,478.0" fill="none" stroke="#ff7070" stroke-width="1.3" stroke-linejoin="round" stroke-linecap="round"/>
<path d="M1310.0,505.0 C1308.7,502.8 1304.5,495.8 1302.0,492.0 C1299.5,488.2 1296.2,483.7 1295.0,482.0" fill="none" stroke="#8080ff" stroke-width="1.2" stroke-linejoin="round" stroke-linecap="round"/>
<path d="M1337.0,455.0 C1334.2,454.2 1325.3,450.5 1320.0,450.0 C1314.7,449.5 1307.5,451.7 1305.0,452.0" fill="none" stroke="#ff7070" stroke-width="1.4" stroke-linejoin="round" stroke-linecap="round"/>
<path d="M1338.0,448.0 C1335.0,447.0 1325.0,442.5 1320.0,442.0 C1315.0,441.5 1310.0,444.5 1308.0,445.0" fill="none" stroke="#ff7070" stroke-width="1.2" stroke-linejoin="round" stroke-linecap="round"/>
<path d="M1160.0,465.0 C1158.3,462.5 1153.3,455.0 1150.0,450.0 C1146.7,445.0 1142.0,439.2 1140.0,435.0 C1138.0,430.8 1138.3,426.7 1138.0,425.0" fill="none" stroke="#8080ff" stroke-width="1.2" stroke-linejoin="round" stroke-linecap="round"/>
<path d="M1150.0,448.0 C1151.7,445.3 1157.0,435.8 1160.0,432.0 C1163.0,428.2 1166.7,426.2 1168.0,425.0" fill="none" stroke="#8080ff" stroke-width="1.0" stroke-linejoin="round" stroke-linecap="round"/>
<path d="M1120.0,462.0 C1121.3,459.2 1126.3,450.0 1128.0,445.0 C1129.7,440.0 1129.7,434.2 1130.0,432.0" fill="none" stroke="#ff7070" stroke-width="1.2" stroke-linejoin="round" stroke-linecap="round"/>
<path d="M1185.0,445.0 C1185.8,442.5 1188.3,434.5 1190.0,430.0 C1191.7,425.5 1194.2,420.0 1195.0,418.0" fill="none" stroke="#ff7070" stroke-width="1.0" stroke-linejoin="round" stroke-linecap="round"/>
<path d="M985.0,990.0 C987.5,989.2 995.0,985.0 1000.0,985.0 C1005.0,985.0 1010.8,990.0 1015.0,990.0 C1019.2,990.0 1023.3,985.8 1025.0,985.0" fill="none" stroke="#8080ff" stroke-width="1.0" stroke-linejoin="round" stroke-linecap="round"/>
<path d="M985.0,1010.0 C986.7,1007.5 990.8,997.0 995.0,995.0 C999.2,993.0 1005.5,998.5 1010.0,998.0 C1014.5,997.5 1020.0,993.0 1022.0,992.0" fill="none" stroke="#ff7070" stroke-width="1.0" stroke-linejoin="round" stroke-linecap="round"/>
<path d="M982.0,1025.0 C983.3,1021.7 987.0,1009.2 990.0,1005.0 C993.0,1000.8 998.3,1000.8 1000.0,1000.0" fill="none" stroke="#8080ff" stroke-width="0.8" stroke-linejoin="round" stroke-linecap="round"/>
<defs><clipPath id="ctl"><path d="M838.0,417.5 C835.3,417.2 825.9,414.1 817.5,415.0 C809.1,415.9 783.0,424.1 775.0,424.0 C767.0,423.9 762.3,413.9 757.5,414.0 C752.7,414.1 744.0,425.4 739.0,425.0 C734.0,424.6 725.2,413.5 720.0,411.0 C714.8,408.5 705.7,408.0 700.0,406.0 C694.3,404.0 683.5,397.1 677.5,396.0 C671.5,394.9 661.3,399.6 655.0,397.5 C648.7,395.4 637.3,384.7 630.0,380.0 C622.7,375.3 608.3,365.8 600.0,362.5 C591.7,359.2 575.5,355.2 567.5,355.0 C559.5,354.8 546.0,358.0 540.0,361.0 C534.0,364.0 525.8,371.6 522.5,377.5 C519.2,383.4 515.7,398.0 515.0,405.0 C514.3,412.0 516.0,423.3 517.5,430.0 C519.0,436.7 524.5,449.0 526.0,455.0 C527.5,461.0 528.3,472.3 528.6,475.0 C528.3,475.4 520.4,484.9 520.6,485.2 C520.8,485.5 533.2,482.8 533.3,483.6 C533.4,484.4 523.6,505.6 523.8,505.9 C524.0,506.2 538.1,490.5 538.9,490.8 C539.7,491.1 543.2,512.2 543.7,512.2 C544.2,512.2 551.4,491.6 552.4,491.6 C553.4,491.6 567.1,512.5 567.5,512.2 C567.9,511.9 562.0,486.0 562.7,485.2 C563.4,484.4 583.8,493.6 584.1,493.2 C584.4,492.8 571.3,476.6 571.4,475.7 C571.5,474.8 586.4,471.4 586.5,471.0 C586.6,470.6 573.4,464.9 573.8,464.6 C574.2,464.3 595.6,463.4 596.8,463.0 C598.0,462.6 603.5,454.0 603.2,453.5 C602.9,453.0 589.6,451.1 589.0,451.0 C586.7,450.2 574.9,446.3 571.4,444.8 C567.9,443.3 565.0,442.6 562.5,440.0 C560.0,437.4 554.2,429.0 552.5,425.0 C550.8,421.0 549.7,413.7 550.0,410.0 C550.3,406.3 552.7,399.8 555.0,397.5 C557.3,395.2 562.8,393.6 567.5,392.5 C572.2,391.4 584.3,389.0 590.0,389.0 C595.7,389.0 604.7,390.4 610.0,392.5 C615.3,394.6 624.7,402.0 630.0,405.0 C635.3,408.0 644.0,413.8 650.0,415.0 C656.0,416.2 668.7,413.3 675.0,414.0 C681.3,414.7 691.8,418.2 697.5,420.0 C703.2,421.8 712.2,424.5 717.5,427.5 C722.8,430.5 732.2,442.0 737.5,442.5 C742.8,443.0 752.2,431.7 757.5,431.0 C762.8,430.3 769.5,437.3 777.5,437.5 C785.5,437.7 809.4,433.1 817.5,432.5 C825.6,431.9 835.3,432.9 838.0,433.0Z"/></clipPath></defs>
<path d="M466.0,443.0 L527.0,456.0 L590.0,470.0 L588.0,485.0 L526.0,473.0 L471.0,464.0Z" fill="#e3dbdb"/>
<path d="M466,443 L527,456" fill="none" stroke="#b3b3b3" stroke-width="3"/>
<path d="M471,464 L526,473 L588,484" fill="none" stroke="#b3b3b3" stroke-width="3"/>
<path d="M719,478 Q770,468 819,452 L819,458 Q770,474 720,483Z" fill="#d6cdcd"/>
<path d="M716,464 Q770,452 819,436 L819,452 Q770,468 719,479Z" fill="#e6e6e6"/>
<path d="M716,464 Q770,452 819,436" fill="none" stroke="#a3a3a3" stroke-width="3.2" stroke-linejoin="round" stroke-linecap="round"/>
<path d="M719,479 Q770,468 819,452" fill="none" stroke="#a3a3a3" stroke-width="3.2" stroke-linejoin="round" stroke-linecap="round"/>
<path d="M866.0,655.0 C866.2,659.2 866.3,670.8 867.0,680.0 C867.7,689.2 869.0,696.7 870.0,710.0 C871.0,723.3 872.0,743.3 873.0,760.0 C874.0,776.7 875.2,793.3 876.0,810.0 C876.8,826.7 877.0,841.7 878.0,860.0 C879.0,878.3 880.0,904.7 882.0,920.0 C884.0,935.3 886.2,943.2 890.0,952.0 C893.8,960.8 898.8,967.3 905.0,973.0 C911.2,978.7 920.0,983.2 927.0,986.0 C934.0,988.8 943.7,989.3 947.0,990.0 L956,990 L956,690 L877,690Z" fill="#f4c0a8"/>
<path d="M876.0,692.0 C876.7,695.0 878.5,702.8 880.0,710.0 C881.5,717.2 883.7,726.7 885.0,735.0 C886.3,743.3 887.0,747.5 888.0,760.0 C889.0,772.5 890.2,793.3 891.0,810.0 C891.8,826.7 892.2,842.5 893.0,860.0 C893.8,877.5 894.7,901.7 896.0,915.0 C897.3,928.3 897.8,931.2 901.0,940.0 C904.2,948.8 907.5,959.8 915.0,968.0 C922.5,976.2 940.8,985.5 946.0,989.0 L956,989 L956,700 L940,699 L937,700 L915,709 L895,702 L877,690Z" fill="#e39393"/>
<path d="M905,722 L956,722 L956,985 L935,975 L915,950 L908,900 L905,800Z" fill="#e9b3b3"/>
<path d="M906,741 L952,741" fill="none" stroke="#e39a9a" stroke-width="3"/>
<path d="M891,759 Q905,766 925,765 T954,762" fill="none" stroke="#e05a5a" stroke-width="1.7"/>
<path d="M891,776 Q905,783 925,782 T954,779" fill="none" stroke="#e05a5a" stroke-width="1.7"/>
<path d="M892,793 Q905,800 925,799 T954,796" fill="none" stroke="#e05a5a" stroke-width="1.7"/>
<path d="M892,812 Q905,819 925,818 T954,815" fill="none" stroke="#e05a5a" stroke-width="1.7"/>
<path d="M893,828 Q905,835 925,834 T954,831" fill="none" stroke="#e05a5a" stroke-width="1.7"/>
<path d="M893,846 Q905,853 925,852 T954,849" fill="none" stroke="#e05a5a" stroke-width="1.7"/>
<path d="M894,867 Q905,874 925,873 T954,870" fill="none" stroke="#e05a5a" stroke-width="1.7"/>
<path d="M894,882 Q905,889 925,888 T954,885" fill="none" stroke="#e05a5a" stroke-width="1.7"/>
<path d="M895,898 Q905,905 925,904 T954,901" fill="none" stroke="#e05a5a" stroke-width="1.7"/>
<path d="M895,914 Q905,921 925,920 T954,917" fill="none" stroke="#e05a5a" stroke-width="1.7"/>
<path d="M901,933 Q905,940 925,939 T954,936" fill="none" stroke="#e05a5a" stroke-width="1.7"/>
<path d="M901,953 Q905,960 925,959 T954,956" fill="none" stroke="#e05a5a" stroke-width="1.7"/>
<path d="M876.0,692.0 C876.7,695.0 878.7,703.7 880.0,710.0 C881.3,716.3 882.8,723.3 884.0,730.0 C885.2,736.7 886.1,745.4 887.0,750.0 C887.9,754.6 889.6,755.0 889.4,757.5 C889.2,760.0 885.6,762.5 885.8,765.0 C885.9,767.5 890.0,770.0 890.2,772.5 C890.3,775.0 886.4,777.5 886.5,780.0 C886.7,782.5 890.8,785.0 890.9,787.5 C891.1,790.0 887.2,792.5 887.3,795.0 C887.4,797.5 891.6,800.0 891.7,802.5 C891.8,805.0 888.0,807.5 888.1,810.0 C888.2,812.5 892.3,815.0 892.5,817.5 C892.6,820.0 888.7,822.5 888.9,825.0 C889.0,827.5 893.1,830.0 893.2,832.5 C893.4,835.0 889.5,837.5 889.6,840.0 C889.8,842.5 893.9,845.0 894.0,847.5 C894.1,850.0 890.3,852.5 890.4,855.0 C890.5,857.5 894.7,860.0 894.8,862.5 C894.9,865.0 891.0,867.5 891.2,870.0 C891.3,872.5 895.4,875.0 895.6,877.5 C895.7,880.0 891.8,882.5 891.9,885.0 C892.1,887.5 896.2,890.0 896.3,892.5 C896.5,895.0 892.6,897.5 892.7,900.0 C892.8,902.5 897.0,905.0 897.1,907.5 C897.2,910.0 893.4,912.5 893.5,915.0 C893.6,917.5 897.7,920.0 897.9,922.5 C898.0,925.0 894.1,927.8 894.3,930.0 C894.4,932.2 895.5,929.7 899.0,936.0 C902.5,942.3 907.2,959.2 915.0,968.0 C922.8,976.8 940.8,985.5 946.0,989.0" fill="none" stroke="#ff0000" stroke-width="3.8" stroke-linejoin="round" stroke-linecap="round"/>
<path d="M870.0,710.0 C870.5,718.3 872.0,743.3 873.0,760.0 C874.0,776.7 875.2,793.3 876.0,810.0 C876.8,826.7 877.0,841.7 878.0,860.0 C879.0,878.3 880.0,904.7 882.0,920.0 C884.0,935.3 886.2,943.2 890.0,952.0 C893.8,960.8 898.8,967.3 905.0,973.0 C911.2,978.7 920.0,983.2 927.0,986.0 C934.0,988.8 943.7,989.3 947.0,990.0" fill="none" stroke="#ff7f2a" stroke-width="5.5" stroke-linejoin="round" stroke-linecap="round"/>
<path d="M956,620 L956,990" fill="none" stroke="#e06666" stroke-width="1.5"/>
<path d="M956.0,352.0 C947.5,353.2 921.8,354.8 905.0,359.0 C888.2,363.2 867.5,370.8 855.0,377.0 C842.5,383.2 836.2,389.8 830.0,396.0 C823.8,402.2 820.3,405.2 818.0,414.0 C815.7,422.8 814.4,434.7 816.0,449.0 C817.6,463.3 823.8,487.3 827.5,500.0 C831.2,512.7 834.6,517.2 838.0,525.0 C841.4,532.8 844.3,539.8 848.0,547.0 C851.7,554.2 856.0,561.2 860.0,568.0 C864.0,574.8 868.5,582.7 871.7,588.0 C874.9,593.3 877.8,596.0 879.0,600.0 C880.2,604.0 880.2,606.0 879.0,612.0 C877.8,618.0 874.3,628.0 872.0,636.0 C869.7,644.0 866.5,652.0 865.0,660.0 C863.5,668.0 863.3,680.0 863.0,684.0 L876,692 C879.2,693.7 888.5,699.2 895.0,702.0 C901.5,704.8 908.0,709.3 915.0,709.0 C922.0,708.7 932.7,703.2 937.0,700.0 C941.3,696.8 940.3,691.7 941.0,690.0 L956,690Z" fill="#f0a48a"/>
<path d="M956.0,352.0 C947.5,353.2 921.8,354.8 905.0,359.0 C888.2,363.2 867.5,370.8 855.0,377.0 C842.5,383.2 836.2,389.8 830.0,396.0 C823.8,402.2 820.0,411.0 818.0,414.0 L820,413 C821.0,411.5 820.5,407.7 826.0,404.0 C831.5,400.3 840.0,395.4 853.0,391.0 C866.0,386.6 886.8,380.3 904.0,377.5 C921.2,374.7 947.3,374.6 956.0,374.0Z" fill="#f4c7a8"/>
<path d="M830,419 L956,426 L956,700 L940,699 C939.5,692.5 937.5,672.8 937.0,660.0 C936.5,647.2 936.7,631.2 937.0,622.0 C937.3,612.8 937.8,611.2 939.0,605.0 C940.2,598.8 944.2,591.7 944.0,585.0 C943.8,578.3 940.3,570.8 938.0,565.0 C935.7,559.2 933.8,558.8 930.0,550.0 C926.2,541.2 920.8,525.3 915.0,512.0 C909.2,498.7 902.5,481.7 895.0,470.0 C887.5,458.3 879.7,449.2 870.0,442.0 C860.3,434.8 842.5,429.5 837.0,427.0 L830,430Z" fill="#e9afaf"/>
<path d="M837.0,427.0 C842.5,429.5 860.3,434.8 870.0,442.0 C879.7,449.2 887.5,458.3 895.0,470.0 C902.5,481.7 909.2,498.7 915.0,512.0 C920.8,525.3 926.2,541.2 930.0,550.0 C933.8,558.8 935.7,559.2 938.0,565.0 C940.3,570.8 943.8,578.3 944.0,585.0 C944.2,591.7 940.2,598.8 939.0,605.0 C937.8,611.2 937.3,612.8 937.0,622.0 C936.7,631.2 936.5,647.2 937.0,660.0 C937.5,672.8 939.5,692.5 940.0,699.0 L950.0,699.0 C950.7,698.3 953.8,702.2 954.0,695.0 C954.2,687.8 951.5,668.8 951.0,656.0 C950.5,643.2 950.7,627.2 951.0,618.0 C951.3,608.8 951.8,607.2 953.0,601.0 C954.2,594.8 958.2,587.7 958.0,581.0 C957.8,574.3 954.3,566.8 952.0,561.0 C949.7,555.2 947.8,554.8 944.0,546.0 C940.2,537.2 934.8,521.3 929.0,508.0 C923.2,494.7 916.5,477.7 909.0,466.0 C901.5,454.3 895.0,445.2 884.0,438.0 C873.0,430.8 849.8,425.5 843.0,423.0Z" fill="#e39a9a"/>
<path d="M840,428 L956,435 L956,459Z" fill="#e39a9a"/>
<path d="M836,421.5 L956,431" fill="none" stroke="#ff0000" stroke-width="8.5"/>
<path d="M833.0,428.0 C833.7,427.8 830.8,424.7 837.0,427.0 C843.2,429.3 860.3,434.8 870.0,442.0 C879.7,449.2 887.5,458.3 895.0,470.0 C902.5,481.7 909.2,498.7 915.0,512.0 C920.8,525.3 926.2,541.2 930.0,550.0 C933.8,558.8 936.7,562.5 938.0,565.0" fill="none" stroke="#ff0000" stroke-width="6" stroke-linejoin="round" stroke-linecap="round"/>
<path d="M938.0,565.0 C939.0,568.3 943.8,578.3 944.0,585.0 C944.2,591.7 940.2,598.8 939.0,605.0 C937.8,611.2 937.3,612.8 937.0,622.0 C936.7,631.2 936.5,647.2 937.0,660.0 C937.5,672.8 939.5,692.5 940.0,699.0" fill="none" stroke="#ff0000" stroke-width="4.4" stroke-linejoin="round" stroke-linecap="round"/>
<path d="M930.0,550.0 C931.3,552.5 935.7,560.0 938.0,565.0 C940.3,570.0 943.2,575.5 944.0,580.0 C944.8,584.5 943.2,590.0 943.0,592.0" fill="none" stroke="#ff0000" stroke-width="6.5" stroke-linejoin="round" stroke-linecap="round"/>
<path d="M819.0,413.0 C820.2,411.5 820.3,407.7 826.0,404.0 C831.7,400.3 840.0,395.4 853.0,391.0 C866.0,386.6 887.0,380.3 904.0,377.5 C921.0,374.7 946.5,374.6 955.0,374.0 L955,376" fill="none" stroke="#808080" stroke-width="5" stroke-linejoin="miter"/>
<path d="M956,372 L956,620" fill="none" stroke="#808080" stroke-width="3"/>
<path d="M956.0,352.0 C947.5,353.2 921.8,354.8 905.0,359.0 C888.2,363.2 867.5,370.8 855.0,377.0 C842.5,383.2 836.2,389.8 830.0,396.0 C823.8,402.2 820.0,411.0 818.0,414.0" fill="none" stroke="#555" stroke-width="2.2" stroke-linejoin="round" stroke-linecap="round"/>
<path d="M818,414 C817.7,419.8 814.4,434.7 816.0,449.0 C817.6,463.3 823.8,487.3 827.5,500.0 C831.2,512.7 834.6,517.2 838.0,525.0 C841.4,532.8 844.3,539.8 848.0,547.0 C851.7,554.2 856.0,561.2 860.0,568.0 C864.0,574.8 868.5,582.7 871.7,588.0 C874.9,593.3 877.8,596.0 879.0,600.0 C880.2,604.0 880.2,606.0 879.0,612.0 C877.8,618.0 874.3,628.0 872.0,636.0 C869.7,644.0 866.5,652.0 865.0,660.0 C863.5,668.0 862.5,676.8 863.0,684.0 C863.5,691.2 867.2,699.8 868.0,703.0" fill="none" stroke="#858585" stroke-width="5.2" stroke-linejoin="round" stroke-linecap="round"/>
<path d="M876.0,690.0 C879.2,692.0 888.5,698.8 895.0,702.0 C901.5,705.2 908.0,709.3 915.0,709.0 C922.0,708.7 932.7,703.2 937.0,700.0 C941.3,696.8 940.3,691.7 941.0,690.0" fill="none" stroke="#ff0000" stroke-width="4" stroke-linejoin="round" stroke-linecap="round"/>
<path d="M866,657 L876,691" fill="none" stroke="#ff7f2a" stroke-width="2"/>
<path d="M838.0,417.5 C835.3,417.2 825.9,414.1 817.5,415.0 C809.1,415.9 783.0,424.1 775.0,424.0 C767.0,423.9 762.3,413.9 757.5,414.0 C752.7,414.1 744.0,425.4 739.0,425.0 C734.0,424.6 725.2,413.5 720.0,411.0 C714.8,408.5 705.7,408.0 700.0,406.0 C694.3,404.0 683.5,397.1 677.5,396.0 C671.5,394.9 661.3,399.6 655.0,397.5 C648.7,395.4 637.3,384.7 630.0,380.0 C622.7,375.3 608.3,365.8 600.0,362.5 C591.7,359.2 575.5,355.2 567.5,355.0 C559.5,354.8 546.0,358.0 540.0,361.0 C534.0,364.0 525.8,371.6 522.5,377.5 C519.2,383.4 515.7,398.0 515.0,405.0 C514.3,412.0 516.0,423.3 517.5,430.0 C519.0,436.7 524.5,449.0 526.0,455.0 C527.5,461.0 528.3,472.3 528.6,475.0 C528.3,475.4 520.4,484.9 520.6,485.2 C520.8,485.5 533.2,482.8 533.3,483.6 C533.4,484.4 523.6,505.6 523.8,505.9 C524.0,506.2 538.1,490.5 538.9,490.8 C539.7,491.1 543.2,512.2 543.7,512.2 C544.2,512.2 551.4,491.6 552.4,491.6 C553.4,491.6 567.1,512.5 567.5,512.2 C567.9,511.9 562.0,486.0 562.7,485.2 C563.4,484.4 583.8,493.6 584.1,493.2 C584.4,492.8 571.3,476.6 571.4,475.7 C571.5,474.8 586.4,471.4 586.5,471.0 C586.6,470.6 573.4,464.9 573.8,464.6 C574.2,464.3 595.6,463.4 596.8,463.0 C598.0,462.6 603.5,454.0 603.2,453.5 C602.9,453.0 589.6,451.1 589.0,451.0 C586.7,450.2 574.9,446.3 571.4,444.8 C567.9,443.3 565.0,442.6 562.5,440.0 C560.0,437.4 554.2,429.0 552.5,425.0 C550.8,421.0 549.7,413.7 550.0,410.0 C550.3,406.3 552.7,399.8 555.0,397.5 C557.3,395.2 562.8,393.6 567.5,392.5 C572.2,391.4 584.3,389.0 590.0,389.0 C595.7,389.0 604.7,390.4 610.0,392.5 C615.3,394.6 624.7,402.0 630.0,405.0 C635.3,408.0 644.0,413.8 650.0,415.0 C656.0,416.2 668.7,413.3 675.0,414.0 C681.3,414.7 691.8,418.2 697.5,420.0 C703.2,421.8 712.2,424.5 717.5,427.5 C722.8,430.5 732.2,442.0 737.5,442.5 C742.8,443.0 752.2,431.7 757.5,431.0 C762.8,430.3 769.5,437.3 777.5,437.5 C785.5,437.7 809.4,433.1 817.5,432.5 C825.6,431.9 835.3,432.9 838.0,433.0Z" fill="#e9afaf"/>
<path d="M817.5,415.0 C811.8,416.2 783.0,424.1 775.0,424.0 C767.0,423.9 762.3,413.9 757.5,414.0 C752.7,414.1 744.0,425.4 739.0,425.0 C734.0,424.6 725.2,413.5 720.0,411.0 C714.8,408.5 705.7,408.0 700.0,406.0 C694.3,404.0 683.5,397.1 677.5,396.0 C671.5,394.9 661.3,399.6 655.0,397.5 C648.7,395.4 637.3,384.7 630.0,380.0 C622.7,375.3 608.3,365.8 600.0,362.5 C591.7,359.2 575.5,355.2 567.5,355.0 C559.5,354.8 546.0,358.0 540.0,361.0 C534.0,364.0 525.8,371.6 522.5,377.5 C519.2,383.4 515.7,398.0 515.0,405.0 C514.3,412.0 516.0,423.3 517.5,430.0 C519.0,436.7 524.6,449.9 526.0,455.0 C527.4,460.1 527.7,466.3 528.0,468.0" fill="none" stroke="#808080" stroke-width="6.5" stroke-linejoin="round"/>
<path d="M600.0,452.0 C598.5,451.9 592.8,452.0 589.0,451.0 C585.2,450.0 574.9,446.3 571.4,444.8 C567.9,443.3 565.0,442.6 562.5,440.0 C560.0,437.4 554.2,429.0 552.5,425.0 C550.8,421.0 549.7,413.7 550.0,410.0 C550.3,406.3 552.7,399.8 555.0,397.5 C557.3,395.2 562.8,393.6 567.5,392.5 C572.2,391.4 584.3,389.0 590.0,389.0 C595.7,389.0 604.7,390.4 610.0,392.5 C615.3,394.6 624.7,402.0 630.0,405.0 C635.3,408.0 644.0,413.8 650.0,415.0 C656.0,416.2 668.7,413.3 675.0,414.0 C681.3,414.7 691.8,418.2 697.5,420.0 C703.2,421.8 712.2,424.5 717.5,427.5 C722.8,430.5 732.2,442.0 737.5,442.5 C742.8,443.0 752.2,431.7 757.5,431.0 C762.8,430.3 769.5,437.3 777.5,437.5 C785.5,437.7 812.2,433.2 817.5,432.5" fill="none" stroke="#808080" stroke-width="6.5" stroke-linejoin="round"/>
<g clip-path="url(#ctl)">
<path d="M838.0,417.5 C835.3,417.2 825.9,414.1 817.5,415.0 C809.1,415.9 783.0,424.1 775.0,424.0 C767.0,423.9 762.3,413.9 757.5,414.0 C752.7,414.1 744.0,425.4 739.0,425.0 C734.0,424.6 725.2,413.5 720.0,411.0 C714.8,408.5 705.7,408.0 700.0,406.0 C694.3,404.0 683.5,397.1 677.5,396.0 C671.5,394.9 661.3,399.6 655.0,397.5 C648.7,395.4 637.3,384.7 630.0,380.0 C622.7,375.3 608.3,365.8 600.0,362.5 C591.7,359.2 575.5,355.2 567.5,355.0 C559.5,354.8 546.0,358.0 540.0,361.0 C534.0,364.0 525.8,371.6 522.5,377.5 C519.2,383.4 515.7,398.0 515.0,405.0 C514.3,412.0 516.0,423.3 517.5,430.0 C519.0,436.7 524.5,449.0 526.0,455.0 C527.5,461.0 528.3,472.3 528.6,475.0" fill="none" stroke="#ff0000" stroke-width="9.4" stroke-linejoin="round" stroke-linecap="round"/>
<path d="M603.2,453.5 C601.3,453.2 593.2,452.2 589.0,451.0 C584.8,449.8 574.9,446.3 571.4,444.8 C567.9,443.3 565.0,442.6 562.5,440.0 C560.0,437.4 554.2,429.0 552.5,425.0 C550.8,421.0 549.7,413.7 550.0,410.0 C550.3,406.3 552.7,399.8 555.0,397.5 C557.3,395.2 562.8,393.6 567.5,392.5 C572.2,391.4 584.3,389.0 590.0,389.0 C595.7,389.0 604.7,390.4 610.0,392.5 C615.3,394.6 624.7,402.0 630.0,405.0 C635.3,408.0 644.0,413.8 650.0,415.0 C656.0,416.2 668.7,413.3 675.0,414.0 C681.3,414.7 691.8,418.2 697.5,420.0 C703.2,421.8 712.2,424.5 717.5,427.5 C722.8,430.5 732.2,442.0 737.5,442.5 C742.8,443.0 752.2,431.7 757.5,431.0 C762.8,430.3 769.5,437.3 777.5,437.5 C785.5,437.7 809.4,433.1 817.5,432.5 C825.6,431.9 835.3,432.9 838.0,433.0" fill="none" stroke="#ff0000" stroke-width="9.4" stroke-linejoin="round" stroke-linecap="round"/>
<path d="M656.6,400.2 C652.7,398.0 642.0,391.7 632.9,386.7 C623.7,381.7 612.8,373.7 601.8,370.3 C590.8,366.8 576.8,365.6 566.8,366.0 C556.8,366.5 548.4,368.5 541.7,373.0 C535.0,377.5 529.3,385.0 526.3,393.0 C523.4,400.9 523.0,411.7 524.0,420.7 C525.0,429.7 529.3,438.5 532.4,447.0 C535.4,455.5 543.0,463.3 542.3,471.8 C541.5,480.3 530.4,493.6 528.0,498.0" fill="none" stroke="#ff0000" stroke-width="1.6" stroke-linejoin="round" stroke-linecap="round"/>
<path d="M655.5,404.1 C651.4,401.8 640.1,395.2 631.0,390.2 C621.8,385.2 611.3,377.5 600.6,374.1 C589.9,370.7 576.4,369.6 566.9,370.0 C557.5,370.4 550.0,372.3 543.9,376.3 C537.8,380.4 532.8,387.0 530.1,394.3 C527.5,401.6 527.0,411.7 528.0,420.2 C529.0,428.8 533.1,437.3 536.1,445.7 C539.1,454.1 545.4,460.7 546.1,470.6 C546.7,480.5 541.0,499.3 540.0,505.0" fill="none" stroke="#ff0000" stroke-width="1.6" stroke-linejoin="round" stroke-linecap="round"/>
<path d="M654.2,408.9 C649.9,406.5 637.7,399.6 628.6,394.6 C619.4,389.6 609.3,382.1 599.1,378.9 C588.8,375.6 575.8,374.7 567.1,375.0 C558.4,375.3 552.0,377.0 546.6,380.5 C541.3,384.0 537.1,389.5 534.8,396.0 C532.5,402.5 532.0,411.6 533.0,419.6 C534.0,427.6 537.8,435.7 540.8,444.0 C543.8,452.2 549.0,459.3 550.9,469.1 C552.7,479.0 551.8,497.4 552.0,503.0" fill="none" stroke="#ff0000" stroke-width="1.6" stroke-linejoin="round" stroke-linecap="round"/>
<path d="M652.8,413.7 C648.4,411.3 635.4,404.0 626.2,399.0 C617.0,394.0 607.4,386.8 597.6,383.6 C587.8,380.5 575.3,379.8 567.3,380.0 C559.3,380.2 554.0,381.7 549.4,384.7 C544.8,387.6 541.4,392.0 539.5,397.7 C537.6,403.4 536.9,411.6 537.9,419.0 C538.9,426.5 542.6,434.2 545.5,442.3 C548.5,450.4 551.2,460.0 555.6,467.6 C560.1,475.3 569.3,484.6 572.0,488.0" fill="none" stroke="#ff0000" stroke-width="1.6" stroke-linejoin="round" stroke-linecap="round"/>
<path d="M838.0,425.0 C834.5,424.8 826.7,423.0 817.0,424.0 C807.3,425.0 790.0,431.3 780.0,431.0 C770.0,430.7 764.0,421.5 757.0,422.0 C750.0,422.5 744.5,434.5 738.0,434.0 C731.5,433.5 724.7,422.5 718.0,419.0 C711.3,415.5 705.0,415.3 698.0,413.0 C691.0,410.7 683.2,406.2 676.0,405.0 C668.8,403.8 662.7,408.2 655.0,406.0 C647.3,403.8 634.2,394.3 630.0,392.0" fill="none" stroke="#f4d7d7" stroke-width="1.5"/>
</g>
<path d="M528.6,475.0 C528.3,475.4 520.4,484.9 520.6,485.2 C520.8,485.5 533.2,482.8 533.3,483.6 C533.4,484.4 523.6,505.6 523.8,505.9 C524.0,506.2 538.1,490.5 538.9,490.8 C539.7,491.1 543.2,512.2 543.7,512.2 C544.2,512.2 551.4,491.6 552.4,491.6 C553.4,491.6 567.1,512.5 567.5,512.2 C567.9,511.9 562.0,486.0 562.7,485.2 C563.4,484.4 583.8,493.6 584.1,493.2 C584.4,492.8 571.3,476.6 571.4,475.7 C571.5,474.8 586.4,471.4 586.5,471.0 C586.6,470.6 573.4,464.9 573.8,464.6 C574.2,464.3 595.6,463.4 596.8,463.0 C598.0,462.6 602.9,453.9 603.2,453.5" fill="none" stroke="#ff0000" stroke-width="4" stroke-linejoin="round" stroke-linecap="round"/>
<path d="M602.5,452.5 C607.1,448.6 615.0,449.2 620.0,449.0 C625.0,448.8 627.5,451.5 632.5,451.0 C637.5,450.5 642.9,447.0 650.0,446.0 C657.1,445.0 666.7,443.9 675.0,445.0 C683.3,446.1 692.9,449.0 700.0,452.5 C707.1,456.0 714.2,461.0 717.5,466.0 C720.8,471.0 720.8,477.2 720.0,482.5 C719.2,487.8 716.2,493.3 712.5,497.5 C708.8,501.7 703.3,505.2 697.5,507.5 C691.7,509.8 685.0,509.3 677.5,511.0 C670.0,512.7 661.2,517.2 652.5,517.5 C643.8,517.8 633.3,514.8 625.0,512.5 C616.7,510.2 608.2,507.8 602.5,504.0 C596.8,500.2 592.7,495.2 591.0,490.0 C589.3,484.8 590.6,478.8 592.5,472.5 C594.4,466.2 597.9,456.4 602.5,452.5Z" fill="#ffeeaa" stroke="#4d4d4d" stroke-width="1.8"/>
<circle cx="619.0" cy="462.0" r="11.0" fill="#ffb366"/>
<circle cx="649.5" cy="506.0" r="7.0" fill="#ffb366"/>
<circle cx="685.0" cy="499.0" r="3.5" fill="#ffb366"/>
<circle cx="664.5" cy="452.0" r="2.0" fill="#ffb366"/>
<circle cx="675.5" cy="453.0" r="1.2" fill="#ffb366"/>
<circle cx="608.0" cy="496.0" r="7.0" fill="#ddd5a8" stroke="#b9b089" stroke-width="2"/>
<path d="M669,466 C690,472 705,470 720,468" fill="none" stroke="#c8cdd8" stroke-width="1"/>
<path d="M680,470 C695,475 708,474 721,472" fill="none" stroke="#c8cdd8" stroke-width="1"/>
<path d="M684,474 C700,478 710,476 722,475" fill="none" stroke="#c8cdd8" stroke-width="1"/>
<path d="M692,479 C702,477 712,477 722,478" fill="none" stroke="#c8cdd8" stroke-width="1"/>
<path d="M915,1071 Q935,1080 956,1078 Q978,1080 1000,1071 L985,1180 L928,1180Z" fill="#fff"/>
<path d="M915,1070 Q919,1095 923,1120 L929,1180" fill="none" stroke="#d45500" stroke-width="7"/>
<path d="M1000,1070 Q995,1095 991,1120 L985,1180" fill="none" stroke="#d45500" stroke-width="7"/>
<path d="M915,1070 Q928,1076 943,1077" fill="none" stroke="#d45500" stroke-width="6"/>
<path d="M1000,1070 Q988,1076 972,1077" fill="none" stroke="#d45500" stroke-width="6"/>
<defs><linearGradient id="gcr" x1="981" x2="1195" y1="0" y2="0" gradientUnits="userSpaceOnUse"><stop offset="0" stop-color="#b993d9"/><stop offset="0.55" stop-color="#b692da"/><stop offset="1" stop-color="#9a8fe3"/></linearGradient></defs>
<path d="M946,989 L956,989 L956,1068 Q955,1078 950,1079 L942,1078 L944,1068 L942,1059 L947,1045 L947,1038 L940.5,1014.5 L934,997Z" fill="#e6b8b8"/>
<path d="M934,997 L945,996 L950,1014 L953,1045 L950,1075 L942,1078 L944,1068 L942,1059 L947,1045 L947,1038 L940.5,1014.5Z" fill="#dda5a5"/>
<path d="M957,989 L976,989 L976,1040 Q975,1070 970,1079 L964,1079 Q958,1075 957,1062Z" fill="#ecc0c0"/>
<path d="M946.5,989.0 L946.5,994.0 L934.0,997.0 L940.5,1014.5 L947.0,1038.0 L933.0,1033.0 L938.4,1042.5 L946.8,1045.3 L942.2,1059.0 L944.0,1068.6 L941.6,1078.0" fill="none" stroke="#ff0000" stroke-width="4.8" stroke-linejoin="round"/>
<path d="M946,991 L956,991" fill="none" stroke="#e66" stroke-width="2.5"/>
<path d="M947,1045 L956,1045" fill="none" stroke="#e66" stroke-width="2"/>
<path d="M986.0,936.0 C993.2,933.1 1029.9,932.3 1040.0,932.0 C1050.1,931.7 1057.1,932.7 1062.0,934.0 C1066.9,935.3 1073.8,938.5 1077.0,942.0 C1080.2,945.5 1085.2,954.7 1086.0,960.0 C1086.8,965.3 1085.1,976.7 1083.0,982.0 C1080.9,987.3 1074.4,995.9 1070.0,1000.0 C1065.6,1004.1 1054.3,1011.3 1050.0,1013.0 C1045.7,1014.7 1041.1,1015.0 1038.0,1013.0 C1034.9,1011.0 1029.1,1002.7 1027.0,998.0 C1024.9,993.3 1024.0,982.3 1022.0,978.0 C1020.0,973.7 1016.8,969.2 1012.0,966.0 C1007.2,962.8 989.5,958.0 986.0,954.0 C982.5,950.0 978.8,938.9 986.0,936.0Z" fill="#c873c4" stroke="#b380ff" stroke-width="2.5" stroke-linejoin="round" stroke-linecap="round"/>
<path d="M986.0,938.0 C993.2,935.9 1030.1,935.2 1040.0,936.0 C1049.9,936.8 1056.3,940.5 1060.0,944.0 C1063.7,947.5 1067.5,956.5 1068.0,962.0 C1068.5,967.5 1066.4,979.3 1064.0,985.0 C1061.6,990.7 1053.2,1001.7 1050.0,1005.0 C1046.8,1008.3 1042.7,1010.9 1040.0,1010.0 C1037.3,1009.1 1032.0,1002.3 1030.0,998.0 C1028.0,993.7 1027.1,982.4 1025.0,978.0 C1022.9,973.6 1019.2,968.5 1014.0,965.0 C1008.8,961.5 989.7,955.6 986.0,952.0 C982.3,948.4 978.8,940.1 986.0,938.0Z" fill="#d891d3"/>
<path d="M1113,940 L1060,1006" fill="none" stroke="#ffb380" stroke-width="7.5"/>
<path d="M1060,1006 Q1027,1050 997,1070" fill="none" stroke="#ff7f2a" stroke-width="6.5"/>
<path d="M981.0,902.0 C990.8,902.7 1017.7,903.5 1040.0,906.0 C1062.3,908.5 1094.2,913.0 1115.0,917.0 C1135.8,921.0 1151.7,925.5 1165.0,930.0 C1178.3,934.5 1190.0,941.7 1195.0,944.0 Q1200,950 1190,950 C1177.5,948.0 1140.0,940.5 1115.0,938.0 C1090.0,935.5 1061.5,934.7 1040.0,935.0 C1018.5,935.3 995.0,939.2 986.0,940.0Z" fill="url(#gcr)" stroke="#8080ff" stroke-width="2.5" stroke-linejoin="round" stroke-linecap="round"/>
<path d="M957,900 L974,900 Q981,901 981,910 L980,960 L976,1010 Q977,1036 966,1038 L957,1039Z" fill="#d5a6ff" stroke="#8080ff" stroke-width="2.5" stroke-linejoin="round" stroke-linecap="round"/>
<path d="M972,903 Q979,903 979,910 L978,960 L975,1005 L970,1005Z" fill="#a99ae8"/>
<path d="M676,150 C620,180 585,240 583,300 C581,340 590,365 603,382" fill="none" stroke="#008000" stroke-width="7" stroke-linecap="butt" />
<circle cx="603.0" cy="382.0" r="7.5" fill="#008000"/>
<path d="M782,198 C720,200 690,235 674,300 C660,360 656,420 655,483" fill="none" stroke="#008000" stroke-width="7" stroke-linecap="butt" />
<circle cx="655.0" cy="483.0" r="7.5" fill="#008000"/>
<path d="M984,329 L984,471" fill="none" stroke="#008000" stroke-width="7" stroke-linecap="butt" />
<circle cx="984.0" cy="471.0" r="7.5" fill="#008000"/>
<path d="M1130,202 C1200,205 1260,270 1269,372" fill="none" stroke="#008000" stroke-width="7" stroke-linecap="butt" />
<path d="M1268,378 L1261,478" fill="none" stroke="#008000" stroke-width="7" stroke-linecap="butt" stroke-dasharray="7.5 5.5"/>
<circle cx="1259.0" cy="485.5" r="7.5" fill="#008000"/>
<path d="M1240,155 C1310,185 1345,260 1333,320 C1328,345 1323,358 1318,371" fill="none" stroke="#008000" stroke-width="7" stroke-linecap="butt" />
<circle cx="1317.5" cy="371.0" r="7.5" fill="#008000"/>
<path d="M855.5,597 L801,598.5 L801,706 L855.5,706" fill="none" stroke="#008000" stroke-width="7" stroke-linejoin="miter"/>
<path d="M766,651 L801,651" fill="none" stroke="#008000" stroke-width="7" stroke-linecap="butt" />
<path d="M813,825 L920,825" fill="none" stroke="#008000" stroke-width="7" stroke-linecap="butt" />
<circle cx="920.0" cy="825.0" r="7.5" fill="#008000"/>
<path d="M777,1083 C820,1080 860,1068 912,1046" fill="none" stroke="#008000" stroke-width="7" stroke-linecap="butt" />
<circle cx="912.5" cy="1045.5" r="7.5" fill="#008000"/>
<text x="581" y="122" font-size="86.8" text-anchor="start" dx="0 -9">Trompas de Falopio</text>
<text x="811.4" y="221" font-size="86.7" text-anchor="start" dx="0 -3">Ovarios</text>
<text x="852.3" y="318" font-size="86.7" text-anchor="start" >Útero</text>
<text x="638.3" y="597.3" font-size="77" text-anchor="middle" >Cérvix</text>
<text x="623" y="670" font-size="77" text-anchor="middle" >ou colo</text>
<text x="630" y="743" font-size="77" text-anchor="middle" >uterino</text>
<text x="561" y="848" font-size="85" text-anchor="start" dx="0 -10.5">Vaxina</text>
<text x="565" y="1104" font-size="85" text-anchor="start" dx="0 -6.5">Vulva</text>
</svg>
</body></html>
